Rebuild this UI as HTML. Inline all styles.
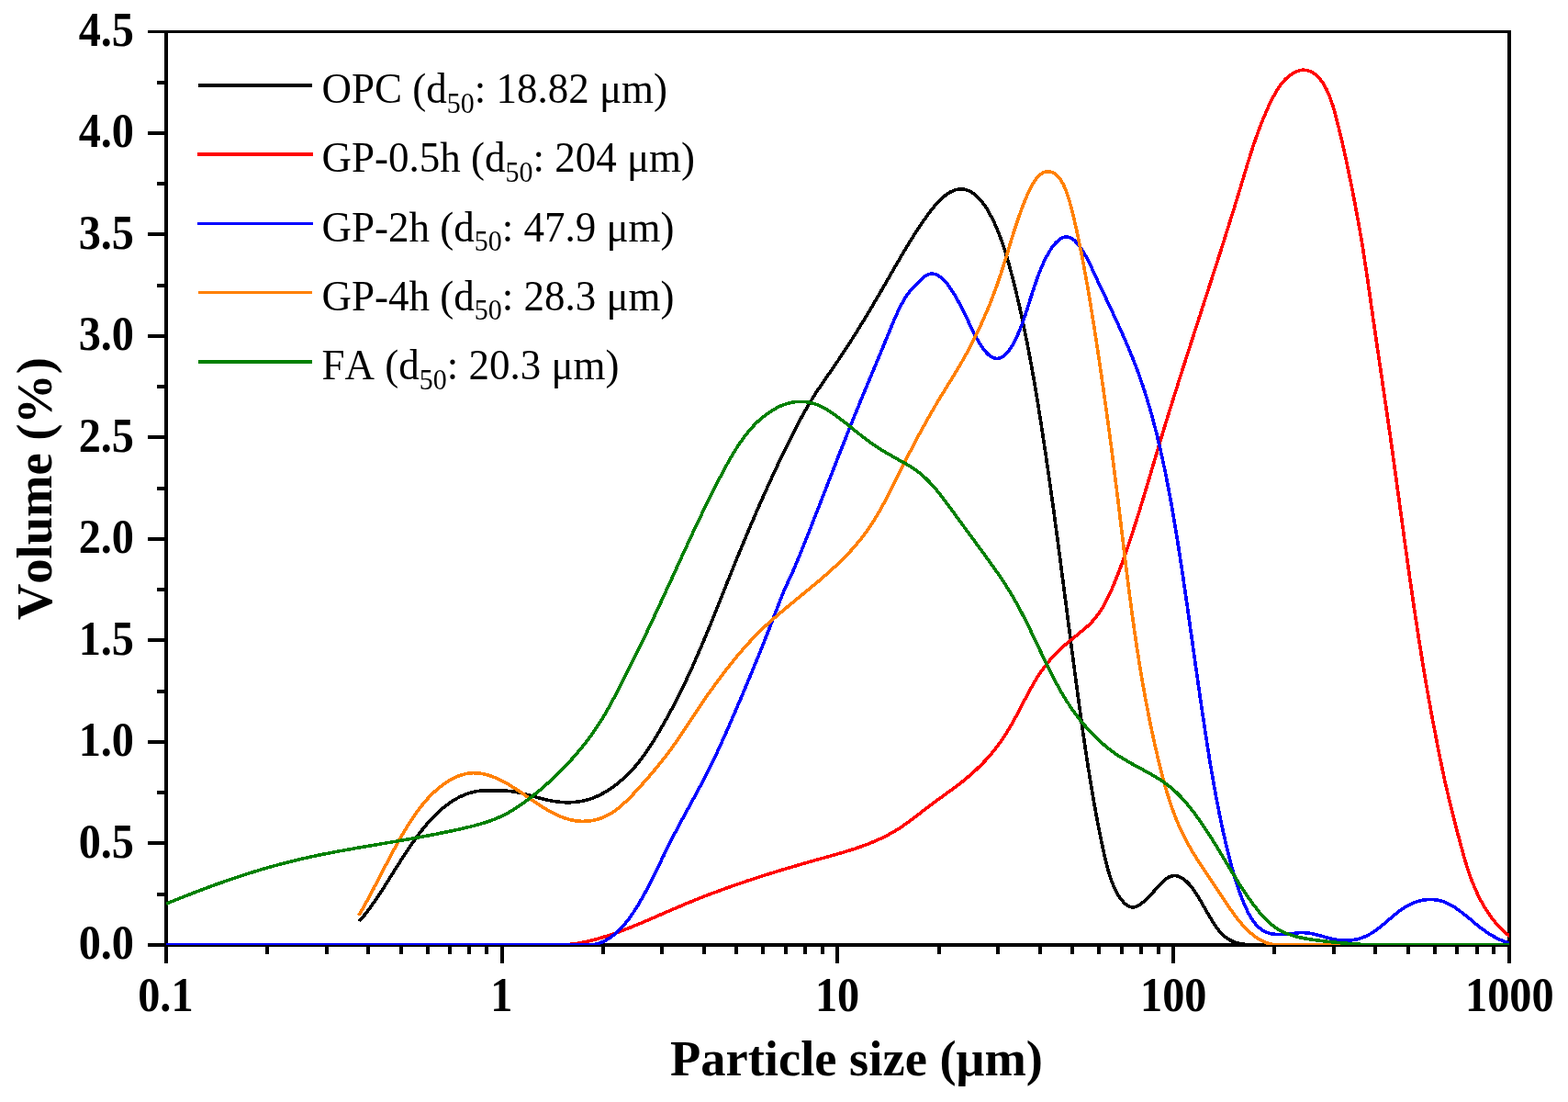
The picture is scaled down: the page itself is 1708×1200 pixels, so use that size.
<!DOCTYPE html>
<html lang="en"><head><meta charset="utf-8"><title>Particle size distribution</title>
<style>html,body{margin:0;padding:0;background:#fff;}body{width:1708px;height:1200px;overflow:hidden;}svg{display:block;}text{font-family:"Liberation Serif",serif;fill:#000;font-kerning:none;}.tk{font-weight:bold;font-size:48.3px;}.ti{font-weight:bold;font-size:55px;}.lg{font-size:45px;}.sub{font-size:30px;}</style></head><body>
<svg width="1708" height="1200" viewBox="0 0 1708 1200">
<rect width="1708" height="1200" fill="#fff"/>
<g fill="#000" shape-rendering="crispEdges">
<rect x="161" y="33" width="1485" height="3"/>
<rect x="179" y="33" width="4" height="1016"/>
<rect x="1642" y="33" width="4" height="1016"/>
<rect x="161" y="1027" width="1485" height="4"/>
<rect x="161" y="916" width="19" height="4"/>
<rect x="161" y="806" width="19" height="4"/>
<rect x="161" y="695" width="19" height="4"/>
<rect x="161" y="585" width="19" height="4"/>
<rect x="161" y="474" width="19" height="4"/>
<rect x="161" y="364" width="19" height="4"/>
<rect x="161" y="253" width="19" height="4"/>
<rect x="161" y="143" width="19" height="4"/>
<rect x="171" y="972" width="9" height="4"/>
<rect x="171" y="861" width="9" height="4"/>
<rect x="171" y="751" width="9" height="4"/>
<rect x="171" y="640" width="9" height="4"/>
<rect x="171" y="530" width="9" height="4"/>
<rect x="171" y="419" width="9" height="4"/>
<rect x="171" y="309" width="9" height="4"/>
<rect x="171" y="198" width="9" height="4"/>
<rect x="171" y="88" width="9" height="4"/>
<rect x="289" y="1030" width="4" height="9"/>
<rect x="354" y="1030" width="4" height="9"/>
<rect x="399" y="1030" width="4" height="9"/>
<rect x="435" y="1030" width="4" height="9"/>
<rect x="464" y="1030" width="4" height="9"/>
<rect x="488" y="1030" width="4" height="9"/>
<rect x="509" y="1030" width="4" height="9"/>
<rect x="528" y="1030" width="4" height="9"/>
<rect x="545" y="1030" width="4" height="19"/>
<rect x="655" y="1030" width="4" height="9"/>
<rect x="719" y="1030" width="4" height="9"/>
<rect x="765" y="1030" width="4" height="9"/>
<rect x="800" y="1030" width="4" height="9"/>
<rect x="829" y="1030" width="4" height="9"/>
<rect x="854" y="1030" width="4" height="9"/>
<rect x="875" y="1030" width="4" height="9"/>
<rect x="894" y="1030" width="4" height="9"/>
<rect x="910" y="1030" width="4" height="19"/>
<rect x="1021" y="1030" width="4" height="9"/>
<rect x="1085" y="1030" width="4" height="9"/>
<rect x="1131" y="1030" width="4" height="9"/>
<rect x="1166" y="1030" width="4" height="9"/>
<rect x="1195" y="1030" width="4" height="9"/>
<rect x="1220" y="1030" width="4" height="9"/>
<rect x="1241" y="1030" width="4" height="9"/>
<rect x="1260" y="1030" width="4" height="9"/>
<rect x="1276" y="1030" width="4" height="19"/>
<rect x="1386" y="1030" width="4" height="9"/>
<rect x="1451" y="1030" width="4" height="9"/>
<rect x="1496" y="1030" width="4" height="9"/>
<rect x="1532" y="1030" width="4" height="9"/>
<rect x="1561" y="1030" width="4" height="9"/>
<rect x="1585" y="1030" width="4" height="9"/>
<rect x="1607" y="1030" width="4" height="9"/>
<rect x="1625" y="1030" width="4" height="9"/>
</g>
<defs><clipPath id="cp"><rect x="181" y="36" width="1463" height="993"/></clipPath></defs>
<g fill="none" stroke-width="3.6" stroke-linejoin="round" stroke-linecap="butt" clip-path="url(#cp)" shape-rendering="crispEdges">
<path stroke="#000000" d="M391.3 1003.3L392.6 1001.8 393.9 1000.3 395.2 998.8 396.4 997.2 397.7 995.7 398.9 994.1 400.1 992.5 401.3 990.9 402.5 989.3 403.7 987.7 404.9 986.0 406.0 984.4 407.2 982.8 408.3 981.1 409.5 979.5 410.6 977.8 411.7 976.1 412.8 974.5 413.9 972.8 415.0 971.1 416.1 969.5 417.2 967.8 418.3 966.1 419.3 964.4 420.4 962.7 421.5 961.0 422.6 959.3 423.6 957.6 424.7 955.9 425.8 954.2 426.8 952.6 427.9 950.9 428.9 949.2 430.0 947.5 431.1 945.8 432.1 944.1 433.2 942.4 434.3 940.7 435.4 939.0 436.4 937.3 437.5 935.6 438.6 934.0 439.7 932.3 440.8 930.6 441.9 928.9 443.0 927.2 444.1 925.6 445.2 923.9 446.3 922.3 447.5 920.6 448.6 919.0 449.7 917.3 450.9 915.7 452.1 914.1 453.2 912.4 454.4 910.8 455.6 909.2 456.8 907.6 458.0 906.0 459.3 904.4 460.5 902.9 461.8 901.3 463.0 899.8 464.3 898.2 465.6 896.7 466.9 895.2 468.3 893.7 469.6 892.2 471.0 890.8 472.4 889.3 473.8 887.9 475.2 886.5 476.7 885.1 478.1 883.8 479.6 882.4 481.1 881.1 482.7 879.8 484.2 878.6 485.8 877.3 487.4 876.1 489.0 875.0 490.7 873.8 492.3 872.7 494.0 871.6 495.7 870.6 497.5 869.6 499.2 868.6 501.0 867.7 502.8 866.9 504.6 866.1 506.5 865.3 508.4 864.6 510.3 863.9 512.2 863.3 514.1 862.8 516.0 862.3 518.0 861.9 520.0 861.6 522.0 861.3 523.9 861.1 525.9 860.9 527.9 860.8 529.9 860.7 531.9 860.7 533.9 860.7 535.9 860.7 537.9 860.7 539.9 860.7 541.9 860.8 544.0 860.8 546.0 860.9 548.0 861.0 550.0 861.1 551.9 861.2 553.9 861.4 555.9 861.6 557.9 861.8 559.9 862.1 561.9 862.5 563.8 862.8 565.8 863.3 567.8 863.7 569.7 864.2 571.6 864.6 573.6 865.2 575.5 865.7 577.4 866.2 579.4 866.7 581.3 867.3 583.2 867.8 585.2 868.4 587.1 868.9 589.0 869.4 591.0 869.9 592.9 870.4 594.8 870.9 596.8 871.3 598.8 871.7 600.7 872.1 602.7 872.4 604.7 872.7 606.7 873.0 608.6 873.2 610.6 873.4 612.6 873.6 614.6 873.7 616.6 873.8 618.6 873.8 620.6 873.8 622.6 873.7 624.6 873.6 626.6 873.4 628.6 873.2 630.6 872.9 632.6 872.6 634.6 872.3 636.5 871.8 638.5 871.3 640.4 870.8 642.3 870.2 644.2 869.6 646.1 868.9 647.9 868.1 649.8 867.3 651.6 866.5 653.4 865.6 655.2 864.7 656.9 863.8 658.7 862.8 660.4 861.7 662.1 860.7 663.8 859.6 665.4 858.5 667.1 857.3 668.7 856.2 670.3 855.0 671.9 853.7 673.4 852.5 675.0 851.2 676.5 849.9 678.0 848.6 679.5 847.3 681.0 845.9 682.5 844.6 683.9 843.2 685.3 841.8 686.7 840.3 688.1 838.9 689.5 837.4 690.8 835.9 692.1 834.4 693.4 832.9 694.7 831.4 696.0 829.8 697.2 828.2 698.4 826.6 699.6 825.0 700.8 823.4 702.0 821.8 703.1 820.1 704.2 818.5 705.4 816.8 706.5 815.2 707.6 813.5 708.7 811.8 709.8 810.1 710.8 808.5 711.9 806.8 712.9 805.1 714.0 803.3 715.0 801.6 716.1 799.9 717.1 798.2 718.1 796.5 719.1 794.8 720.1 793.0 721.1 791.3 722.1 789.6 723.1 787.8 724.1 786.1 725.1 784.3 726.1 782.6 727.0 780.8 728.0 779.1 728.9 777.3 729.9 775.6 730.8 773.8 731.8 772.0 732.7 770.3 733.7 768.5 734.6 766.7 735.5 764.9 736.4 763.1 737.3 761.4 738.2 759.6 739.1 757.8 740.0 756.0 740.9 754.2 741.8 752.4 742.7 750.6 743.6 748.8 744.4 747.0 745.3 745.2 746.2 743.4 747.0 741.6 747.9 739.8 748.7 738.0 749.6 736.2 750.4 734.3 751.3 732.5 752.1 730.7 752.9 728.9 753.8 727.1 754.6 725.2 755.4 723.4 756.2 721.6 757.0 719.8 757.8 717.9 758.6 716.1 759.4 714.3 760.2 712.4 761.0 710.6 761.8 708.7 762.6 706.9 763.4 705.1 764.2 703.2 765.0 701.4 765.8 699.5 766.5 697.7 767.3 695.8 768.1 694.0 768.8 692.1 769.6 690.3 770.4 688.4 771.1 686.6 771.9 684.7 772.7 682.9 773.4 681.0 774.2 679.2 774.9 677.3 775.7 675.5 776.4 673.6 777.2 671.8 777.9 669.9 778.7 668.1 779.4 666.2 780.2 664.3 780.9 662.5 781.7 660.6 782.4 658.8 783.1 656.9 783.9 655.0 784.6 653.2 785.4 651.3 786.1 649.5 786.9 647.6 787.6 645.7 788.3 643.9 789.1 642.0 789.8 640.2 790.6 638.3 791.3 636.4 792.0 634.6 792.8 632.7 793.5 630.9 794.3 629.0 795.0 627.2 795.8 625.3 796.5 623.4 797.3 621.6 798.0 619.7 798.8 617.9 799.5 616.0 800.3 614.2 801.0 612.3 801.8 610.5 802.5 608.6 803.3 606.7 804.1 604.9 804.8 603.0 805.6 601.2 806.3 599.3 807.1 597.5 807.9 595.6 808.6 593.8 809.4 591.9 810.2 590.1 810.9 588.2 811.7 586.4 812.5 584.5 813.3 582.7 814.0 580.9 814.8 579.0 815.6 577.2 816.4 575.3 817.1 573.5 817.9 571.6 818.7 569.8 819.5 568.0 820.3 566.1 821.1 564.3 821.9 562.4 822.7 560.6 823.4 558.8 824.2 556.9 825.0 555.1 825.8 553.3 826.6 551.4 827.4 549.6 828.3 547.8 829.1 545.9 829.9 544.1 830.7 542.3 831.5 540.4 832.3 538.6 833.1 536.8 833.9 534.9 834.8 533.1 835.6 531.3 836.4 529.5 837.2 527.6 838.1 525.8 838.9 524.0 839.7 522.2 840.6 520.4 841.4 518.5 842.2 516.7 843.1 514.9 843.9 513.1 844.8 511.3 845.6 509.5 846.5 507.7 847.3 505.8 848.2 504.0 849.0 502.2 849.9 500.4 850.8 498.6 851.6 496.8 852.5 495.0 853.4 493.2 854.2 491.4 855.1 489.6 856.0 487.8 856.9 486.0 857.8 484.2 858.6 482.4 859.5 480.6 860.4 478.8 861.3 477.0 862.2 475.2 863.1 473.5 864.0 471.7 864.9 469.9 865.8 468.1 866.8 466.3 867.7 464.5 868.6 462.8 869.5 461.0 870.5 459.2 871.4 457.5 872.4 455.7 873.3 453.9 874.3 452.2 875.3 450.4 876.2 448.7 877.2 447.0 878.2 445.2 879.2 443.5 880.2 441.8 881.3 440.0 882.3 438.3 883.3 436.6 884.4 434.9 885.4 433.2 886.5 431.5 887.6 429.8 888.6 428.1 889.7 426.4 890.8 424.8 891.9 423.1 893.1 421.4 894.2 419.8 895.3 418.1 896.4 416.5 897.6 414.8 898.7 413.2 899.8 411.5 901.0 409.9 902.1 408.2 903.3 406.6 904.4 405.0 905.6 403.3 906.7 401.7 907.8 400.0 909.0 398.4 910.1 396.7 911.2 395.1 912.4 393.4 913.5 391.8 914.6 390.1 915.7 388.4 916.8 386.8 917.9 385.1 919.0 383.4 920.1 381.8 921.2 380.1 922.3 378.4 923.4 376.7 924.5 375.0 925.6 373.4 926.7 371.7 927.7 370.0 928.8 368.3 929.9 366.6 931.0 364.9 932.0 363.2 933.1 361.5 934.1 359.8 935.2 358.1 936.2 356.4 937.3 354.7 938.3 353.0 939.4 351.3 940.4 349.6 941.5 347.9 942.5 346.2 943.5 344.4 944.6 342.7 945.6 341.0 946.6 339.3 947.6 337.6 948.7 335.9 949.7 334.1 950.7 332.4 951.7 330.7 952.7 329.0 953.8 327.2 954.8 325.5 955.8 323.8 956.8 322.0 957.8 320.3 958.8 318.6 959.8 316.9 960.8 315.1 961.8 313.4 962.8 311.7 963.8 309.9 964.8 308.2 965.8 306.4 966.8 304.7 967.8 303.0 968.8 301.2 969.8 299.5 970.8 297.8 971.8 296.0 972.8 294.3 973.8 292.6 974.8 290.8 975.8 289.1 976.8 287.4 977.8 285.6 978.8 283.9 979.8 282.2 980.8 280.4 981.8 278.7 982.8 277.0 983.9 275.3 984.9 273.5 985.9 271.8 986.9 270.1 988.0 268.4 989.0 266.7 990.1 265.0 991.1 263.3 992.2 261.6 993.2 259.9 994.3 258.2 995.3 256.5 996.4 254.8 997.5 253.1 998.6 251.4 999.7 249.8 1000.8 248.1 1001.9 246.4 1003.0 244.8 1004.1 243.1 1005.3 241.4 1006.4 239.8 1007.6 238.2 1008.7 236.5 1009.9 234.9 1011.1 233.3 1012.3 231.7 1013.5 230.1 1014.7 228.5 1016.0 227.0 1017.2 225.4 1018.5 223.9 1019.8 222.4 1021.2 220.9 1022.6 219.4 1024.0 218.0 1025.4 216.6 1026.9 215.2 1028.4 213.9 1029.9 212.7 1031.6 211.5 1033.2 210.4 1034.9 209.3 1036.7 208.4 1038.5 207.6 1040.4 206.9 1042.4 206.4 1044.3 206.1 1046.3 205.9 1048.3 206.0 1050.3 206.2 1052.3 206.7 1054.2 207.3 1056.0 208.1 1057.8 209.0 1059.5 210.1 1061.1 211.2 1062.7 212.5 1064.2 213.8 1065.6 215.2 1067.0 216.6 1068.3 218.1 1069.6 219.7 1070.8 221.3 1072.0 222.9 1073.1 224.6 1074.2 226.2 1075.3 227.9 1076.3 229.6 1077.3 231.4 1078.3 233.1 1079.2 234.9 1080.2 236.7 1081.1 238.4 1082.0 240.2 1082.8 242.0 1083.7 243.9 1084.5 245.7 1085.3 247.5 1086.1 249.4 1086.8 251.2 1087.6 253.1 1088.3 254.9 1089.0 256.8 1089.7 258.7 1090.4 260.6 1091.1 262.4 1091.8 264.3 1092.4 266.2 1093.1 268.1 1093.7 270.0 1094.3 271.9 1094.9 273.8 1095.5 275.7 1096.1 277.7 1096.7 279.6 1097.2 281.5 1097.8 283.4 1098.3 285.3 1098.9 287.3 1099.4 289.2 1099.9 291.1 1100.5 293.1 1101.0 295.0 1101.5 296.9 1102.0 298.9 1102.5 300.8 1103.0 302.7 1103.5 304.7 1104.0 306.6 1104.5 308.6 1105.0 310.5 1105.5 312.4 1105.9 314.4 1106.4 316.3 1106.9 318.3 1107.4 320.2 1107.8 322.2 1108.3 324.1 1108.7 326.1 1109.2 328.0 1109.6 330.0 1110.1 331.9 1110.5 333.9 1111.0 335.8 1111.4 337.8 1111.8 339.7 1112.3 341.7 1112.7 343.6 1113.1 345.6 1113.6 347.6 1114.0 349.5 1114.4 351.5 1114.8 353.4 1115.2 355.4 1115.6 357.4 1116.0 359.3 1116.4 361.3 1116.8 363.2 1117.2 365.2 1117.6 367.2 1118.0 369.1 1118.4 371.1 1118.8 373.1 1119.2 375.0 1119.5 377.0 1119.9 378.9 1120.3 380.9 1120.7 382.9 1121.0 384.8 1121.4 386.8 1121.8 388.8 1122.1 390.8 1122.5 392.7 1122.9 394.7 1123.2 396.7 1123.6 398.6 1123.9 400.6 1124.3 402.6 1124.6 404.5 1125.0 406.5 1125.3 408.5 1125.7 410.5 1126.0 412.4 1126.4 414.4 1126.7 416.4 1127.0 418.4 1127.4 420.3 1127.7 422.3 1128.0 424.3 1128.4 426.2 1128.7 428.2 1129.0 430.2 1129.4 432.2 1129.7 434.1 1130.0 436.1 1130.3 438.1 1130.6 440.1 1131.0 442.1 1131.3 444.0 1131.6 446.0 1131.9 448.0 1132.2 450.0 1132.5 451.9 1132.9 453.9 1133.2 455.9 1133.5 457.9 1133.8 459.8 1134.1 461.8 1134.4 463.8 1134.7 465.8 1135.0 467.8 1135.3 469.7 1135.6 471.7 1135.9 473.7 1136.2 475.7 1136.5 477.7 1136.8 479.6 1137.1 481.6 1137.4 483.6 1137.7 485.6 1138.0 487.6 1138.3 489.5 1138.6 491.5 1138.9 493.5 1139.2 495.5 1139.5 497.5 1139.8 499.4 1140.1 501.4 1140.3 503.4 1140.6 505.4 1140.9 507.4 1141.2 509.3 1141.5 511.3 1141.8 513.3 1142.1 515.3 1142.3 517.3 1142.6 519.2 1142.9 521.2 1143.2 523.2 1143.5 525.2 1143.7 527.2 1144.0 529.2 1144.3 531.1 1144.6 533.1 1144.9 535.1 1145.1 537.1 1145.4 539.1 1145.7 541.1 1146.0 543.0 1146.2 545.0 1146.5 547.0 1146.8 549.0 1147.1 551.0 1147.3 553.0 1147.6 554.9 1147.9 556.9 1148.1 558.9 1148.4 560.9 1148.7 562.9 1148.9 564.9 1149.2 566.8 1149.5 568.8 1149.7 570.8 1150.0 572.8 1150.3 574.8 1150.5 576.8 1150.8 578.7 1151.1 580.7 1151.3 582.7 1151.6 584.7 1151.9 586.7 1152.1 588.7 1152.4 590.7 1152.6 592.6 1152.9 594.6 1153.2 596.6 1153.4 598.6 1153.7 600.6 1154.0 602.6 1154.2 604.5 1154.5 606.5 1154.7 608.5 1155.0 610.5 1155.3 612.5 1155.5 614.5 1155.8 616.5 1156.0 618.4 1156.3 620.4 1156.5 622.4 1156.8 624.4 1157.1 626.4 1157.3 628.4 1157.6 630.4 1157.8 632.3 1158.1 634.3 1158.3 636.3 1158.6 638.3 1158.9 640.3 1159.1 642.3 1159.4 644.3 1159.6 646.2 1159.9 648.2 1160.1 650.2 1160.4 652.2 1160.7 654.2 1160.9 656.2 1161.2 658.2 1161.4 660.1 1161.7 662.1 1161.9 664.1 1162.2 666.1 1162.4 668.1 1162.7 670.1 1163.0 672.0 1163.2 674.0 1163.5 676.0 1163.7 678.0 1164.0 680.0 1164.2 682.0 1164.5 684.0 1164.8 685.9 1165.0 687.9 1165.3 689.9 1165.5 691.9 1165.8 693.9 1166.0 695.9 1166.3 697.9 1166.6 699.8 1166.8 701.8 1167.1 703.8 1167.3 705.8 1167.6 707.8 1167.8 709.8 1168.1 711.8 1168.4 713.7 1168.6 715.7 1168.9 717.7 1169.1 719.7 1169.4 721.7 1169.7 723.7 1169.9 725.6 1170.2 727.6 1170.5 729.6 1170.7 731.6 1171.0 733.6 1171.2 735.6 1171.5 737.6 1171.8 739.5 1172.0 741.5 1172.3 743.5 1172.6 745.5 1172.8 747.5 1173.1 749.5 1173.4 751.4 1173.6 753.4 1173.9 755.4 1174.2 757.4 1174.4 759.4 1174.7 761.4 1175.0 763.4 1175.2 765.3 1175.5 767.3 1175.8 769.3 1176.1 771.3 1176.3 773.3 1176.6 775.3 1176.9 777.2 1177.1 779.2 1177.4 781.2 1177.7 783.2 1178.0 785.2 1178.2 787.1 1178.5 789.1 1178.8 791.1 1179.1 793.1 1179.4 795.1 1179.6 797.1 1179.9 799.0 1180.2 801.0 1180.5 803.0 1180.8 805.0 1181.1 807.0 1181.4 808.9 1181.7 810.9 1181.9 812.9 1182.2 814.9 1182.5 816.9 1182.8 818.9 1183.1 820.8 1183.4 822.8 1183.7 824.8 1184.0 826.8 1184.3 828.7 1184.6 830.7 1184.9 832.7 1185.2 834.7 1185.5 836.7 1185.8 838.6 1186.2 840.6 1186.5 842.6 1186.8 844.6 1187.1 846.5 1187.4 848.5 1187.7 850.5 1188.1 852.5 1188.4 854.5 1188.7 856.4 1189.0 858.4 1189.4 860.4 1189.7 862.4 1190.0 864.3 1190.4 866.3 1190.7 868.3 1191.1 870.2 1191.4 872.2 1191.7 874.2 1192.1 876.2 1192.4 878.1 1192.8 880.1 1193.2 882.1 1193.5 884.0 1193.9 886.0 1194.2 888.0 1194.6 889.9 1195.0 891.9 1195.3 893.9 1195.7 895.8 1196.1 897.8 1196.5 899.8 1196.9 901.7 1197.2 903.7 1197.6 905.7 1198.0 907.6 1198.4 909.6 1198.8 911.6 1199.2 913.5 1199.6 915.5 1200.0 917.4 1200.4 919.4 1200.9 921.4 1201.3 923.3 1201.7 925.3 1202.1 927.2 1202.6 929.2 1203.0 931.1 1203.4 933.1 1203.9 935.0 1204.3 937.0 1204.8 938.9 1205.3 940.9 1205.8 942.8 1206.3 944.8 1206.8 946.7 1207.4 948.6 1208.0 950.5 1208.5 952.4 1209.1 954.4 1209.8 956.3 1210.4 958.1 1211.1 960.0 1211.8 961.9 1212.6 963.7 1213.4 965.6 1214.2 967.4 1215.1 969.2 1216.0 971.0 1217.0 972.7 1218.0 974.5 1219.0 976.2 1220.2 977.8 1221.4 979.4 1222.6 981.0 1223.9 982.5 1225.3 983.9 1226.9 985.2 1228.5 986.3 1230.3 987.2 1232.2 987.8 1234.2 987.9 1236.2 987.6 1238.1 986.9 1239.9 986.1 1241.6 985.0 1243.3 983.9 1244.9 982.7 1246.4 981.4 1247.9 980.1 1249.4 978.7 1250.8 977.3 1252.2 975.9 1253.6 974.4 1254.9 972.9 1256.2 971.4 1257.6 969.9 1258.9 968.4 1260.2 966.9 1261.6 965.5 1262.9 964.0 1264.3 962.5 1265.7 961.1 1267.1 959.7 1268.6 958.4 1270.2 957.1 1271.8 956.0 1273.5 955.0 1275.4 954.2 1277.3 953.7 1279.3 953.5 1281.3 953.7 1283.3 954.2 1285.1 954.9 1286.9 955.8 1288.6 956.8 1290.2 958.0 1291.8 959.3 1293.2 960.7 1294.6 962.1 1296.0 963.6 1297.3 965.1 1298.5 966.7 1299.7 968.3 1300.9 969.9 1302.0 971.6 1303.1 973.2 1304.2 974.9 1305.2 976.6 1306.3 978.3 1307.3 980.1 1308.3 981.8 1309.3 983.5 1310.3 985.3 1311.3 987.0 1312.3 988.8 1313.2 990.5 1314.2 992.2 1315.2 994.0 1316.2 995.7 1317.2 997.4 1318.2 999.2 1319.3 1000.9 1320.3 1002.6 1321.4 1004.3 1322.5 1006.0 1323.6 1007.6 1324.7 1009.3 1325.9 1010.9 1327.1 1012.5 1328.4 1014.0 1329.7 1015.6 1331.1 1017.0 1332.5 1018.4 1334.0 1019.7 1335.6 1021.0 1337.2 1022.1 1338.9 1023.2 1340.7 1024.1 1342.5 1025.0 1344.3 1025.7 1346.2 1026.4 1348.1 1026.9 1350.1 1027.4 1352.1 1027.8 1354.0 1028.1 1356.0 1028.4 1358.0 1028.6 1360.0 1028.7 1362.0 1028.8 1364.0 1028.9 1366.0 1029.0 1644.0 1029.0"/>
<path stroke="#ff0000" d="M181.0 1029.0L604.9 1029.0 607.0 1029.0 609.0 1029.0 611.0 1029.0 613.0 1028.9 615.0 1028.8 617.0 1028.7 619.0 1028.5 620.9 1028.3 622.9 1028.1 624.9 1027.8 626.9 1027.6 628.9 1027.3 630.9 1026.9 632.8 1026.6 634.8 1026.2 636.8 1025.8 638.7 1025.4 640.7 1025.0 642.6 1024.5 644.6 1024.0 646.5 1023.5 648.5 1023.0 650.4 1022.5 652.3 1021.9 654.2 1021.4 656.2 1020.8 658.1 1020.2 660.0 1019.6 661.9 1019.0 663.8 1018.4 665.7 1017.7 667.6 1017.1 669.5 1016.4 671.4 1015.8 673.2 1015.1 675.1 1014.4 677.0 1013.7 678.9 1013.0 680.7 1012.3 682.6 1011.5 684.5 1010.8 686.3 1010.1 688.2 1009.3 690.1 1008.6 691.9 1007.8 693.8 1007.0 695.6 1006.3 697.5 1005.5 699.3 1004.7 701.2 1004.0 703.0 1003.2 704.8 1002.4 706.7 1001.6 708.5 1000.8 710.4 1000.0 712.2 999.2 714.0 998.4 715.9 997.6 717.7 996.8 719.5 996.0 721.4 995.2 723.2 994.4 725.1 993.6 726.9 992.8 728.7 992.0 730.6 991.2 732.4 990.4 734.2 989.6 736.1 988.8 737.9 988.0 739.8 987.3 741.6 986.5 743.5 985.7 745.3 984.9 747.1 984.1 749.0 983.4 750.8 982.6 752.7 981.9 754.6 981.1 756.4 980.3 758.3 979.6 760.1 978.9 762.0 978.1 763.9 977.4 765.7 976.7 767.6 975.9 769.5 975.2 771.3 974.5 773.2 973.8 775.1 973.1 776.9 972.4 778.8 971.7 780.7 971.0 782.6 970.3 784.5 969.6 786.3 968.9 788.2 968.2 790.1 967.5 792.0 966.8 793.9 966.2 795.8 965.5 797.7 964.8 799.5 964.2 801.4 963.5 803.3 962.9 805.2 962.2 807.1 961.6 809.0 960.9 810.9 960.3 812.8 959.6 814.7 959.0 816.6 958.4 818.5 957.8 820.4 957.1 822.3 956.5 824.2 955.9 826.1 955.3 828.0 954.7 830.0 954.1 831.9 953.4 833.8 952.8 835.7 952.2 837.6 951.6 839.5 951.0 841.4 950.5 843.3 949.9 845.2 949.3 847.2 948.7 849.1 948.1 851.0 947.5 852.9 946.9 854.8 946.4 856.7 945.8 858.7 945.2 860.6 944.7 862.5 944.1 864.4 943.5 866.4 943.0 868.3 942.4 870.2 941.8 872.1 941.3 874.0 940.7 876.0 940.2 877.9 939.6 879.8 939.1 881.8 938.5 883.7 938.0 885.6 937.4 887.5 936.9 889.5 936.3 891.4 935.8 893.3 935.3 895.2 934.7 897.2 934.2 899.1 933.6 901.0 933.1 903.0 932.6 904.9 932.0 906.8 931.5 908.7 930.9 910.7 930.4 912.6 929.8 914.5 929.3 916.4 928.7 918.4 928.2 920.3 927.6 922.2 927.0 924.1 926.4 926.0 925.8 927.9 925.2 929.9 924.6 931.8 924.0 933.7 923.3 935.5 922.7 937.4 922.0 939.3 921.4 941.2 920.7 943.1 920.0 945.0 919.3 946.8 918.5 948.7 917.8 950.5 917.0 952.4 916.3 954.2 915.5 956.1 914.6 957.9 913.8 959.7 913.0 961.5 912.1 963.3 911.2 965.1 910.3 966.9 909.4 968.6 908.4 970.4 907.5 972.1 906.5 973.9 905.5 975.6 904.5 977.3 903.4 979.0 902.4 980.7 901.3 982.3 900.2 984.0 899.0 985.6 897.9 987.3 896.7 988.9 895.6 990.5 894.4 992.1 893.2 993.7 892.0 995.3 890.8 996.9 889.6 998.5 888.3 1000.1 887.1 1001.7 885.9 1003.3 884.7 1004.8 883.4 1006.4 882.2 1008.0 881.0 1009.6 879.8 1011.2 878.5 1012.8 877.3 1014.4 876.1 1016.0 874.9 1017.6 873.8 1019.2 872.6 1020.8 871.4 1022.5 870.2 1024.1 869.0 1025.7 867.9 1027.3 866.7 1029.0 865.5 1030.6 864.4 1032.2 863.2 1033.8 862.0 1035.5 860.9 1037.1 859.7 1038.7 858.5 1040.3 857.3 1041.9 856.1 1043.5 854.9 1045.1 853.7 1046.7 852.4 1048.3 851.2 1049.8 849.9 1051.4 848.7 1052.9 847.4 1054.4 846.1 1056.0 844.8 1057.5 843.5 1059.0 842.2 1060.5 840.8 1061.9 839.5 1063.4 838.1 1064.8 836.7 1066.3 835.3 1067.7 833.9 1069.1 832.5 1070.5 831.1 1071.9 829.6 1073.3 828.2 1074.6 826.7 1076.0 825.2 1077.3 823.7 1078.6 822.2 1079.9 820.7 1081.2 819.1 1082.5 817.6 1083.7 816.0 1084.9 814.4 1086.2 812.8 1087.4 811.2 1088.6 809.6 1089.7 808.0 1090.9 806.4 1092.0 804.7 1093.2 803.1 1094.3 801.4 1095.3 799.7 1096.4 798.0 1097.5 796.3 1098.5 794.6 1099.6 792.9 1100.6 791.2 1101.6 789.4 1102.6 787.7 1103.5 785.9 1104.5 784.2 1105.5 782.4 1106.4 780.7 1107.4 778.9 1108.3 777.1 1109.2 775.4 1110.2 773.6 1111.1 771.8 1112.0 770.0 1113.0 768.3 1113.9 766.5 1114.8 764.7 1115.7 762.9 1116.7 761.2 1117.6 759.4 1118.5 757.6 1119.5 755.8 1120.4 754.1 1121.4 752.3 1122.3 750.6 1123.3 748.8 1124.3 747.1 1125.3 745.3 1126.3 743.6 1127.3 741.9 1128.3 740.1 1129.4 738.4 1130.4 736.7 1131.5 735.1 1132.6 733.4 1133.8 731.7 1134.9 730.1 1136.1 728.5 1137.3 726.8 1138.5 725.2 1139.7 723.7 1141.0 722.1 1142.2 720.6 1143.5 719.0 1144.8 717.5 1146.2 716.0 1147.5 714.6 1148.9 713.1 1150.3 711.7 1151.7 710.2 1153.1 708.8 1154.6 707.4 1156.0 706.1 1157.5 704.7 1159.0 703.3 1160.5 702.0 1162.0 700.7 1163.5 699.4 1165.0 698.1 1166.6 696.8 1168.1 695.6 1169.7 694.3 1171.2 693.0 1172.8 691.8 1174.4 690.5 1175.9 689.3 1177.5 688.0 1179.0 686.8 1180.6 685.5 1182.1 684.2 1183.6 682.8 1185.1 681.5 1186.5 680.1 1187.9 678.7 1189.3 677.3 1190.7 675.8 1192.0 674.3 1193.3 672.7 1194.5 671.1 1195.7 669.5 1196.9 667.9 1198.0 666.3 1199.1 664.6 1200.2 662.9 1201.2 661.2 1202.2 659.5 1203.2 657.7 1204.2 656.0 1205.1 654.2 1206.0 652.4 1206.9 650.6 1207.8 648.8 1208.7 647.0 1209.5 645.2 1210.3 643.4 1211.1 641.5 1211.9 639.7 1212.7 637.8 1213.5 636.0 1214.2 634.1 1215.0 632.3 1215.7 630.4 1216.4 628.5 1217.1 626.7 1217.9 624.8 1218.6 622.9 1219.3 621.1 1220.0 619.2 1220.7 617.3 1221.4 615.4 1222.1 613.5 1222.7 611.7 1223.4 609.8 1224.1 607.9 1224.8 606.0 1225.4 604.1 1226.1 602.2 1226.8 600.3 1227.4 598.4 1228.1 596.5 1228.7 594.7 1229.4 592.8 1230.0 590.9 1230.6 589.0 1231.3 587.1 1231.9 585.2 1232.5 583.3 1233.2 581.4 1233.8 579.5 1234.4 577.5 1235.0 575.6 1235.6 573.7 1236.3 571.8 1236.9 569.9 1237.5 568.0 1238.1 566.1 1238.7 564.2 1239.3 562.3 1239.9 560.4 1240.5 558.5 1241.1 556.5 1241.7 554.6 1242.2 552.7 1242.8 550.8 1243.4 548.9 1244.0 547.0 1244.6 545.1 1245.2 543.1 1245.8 541.2 1246.3 539.3 1246.9 537.4 1247.5 535.5 1248.1 533.5 1248.6 531.6 1249.2 529.7 1249.8 527.8 1250.4 525.9 1250.9 523.9 1251.5 522.0 1252.1 520.1 1252.6 518.2 1253.2 516.3 1253.8 514.3 1254.3 512.4 1254.9 510.5 1255.5 508.6 1256.0 506.7 1256.6 504.7 1257.2 502.8 1257.8 500.9 1258.3 499.0 1258.9 497.1 1259.5 495.1 1260.0 493.2 1260.6 491.3 1261.2 489.4 1261.7 487.5 1262.3 485.5 1262.9 483.6 1263.5 481.7 1264.0 479.8 1264.6 477.9 1265.2 476.0 1265.8 474.0 1266.4 472.1 1266.9 470.2 1267.5 468.3 1268.1 466.4 1268.7 464.5 1269.3 462.5 1269.9 460.6 1270.5 458.7 1271.0 456.8 1271.6 454.9 1272.2 453.0 1272.8 451.1 1273.4 449.1 1274.0 447.2 1274.6 445.3 1275.2 443.4 1275.8 441.5 1276.4 439.6 1277.0 437.7 1277.6 435.7 1278.2 433.8 1278.8 431.9 1279.4 430.0 1280.0 428.1 1280.6 426.2 1281.2 424.3 1281.8 422.4 1282.4 420.5 1283.0 418.6 1283.6 416.6 1284.2 414.7 1284.8 412.8 1285.4 410.9 1286.0 409.0 1286.6 407.1 1287.2 405.2 1287.8 403.3 1288.4 401.4 1289.0 399.5 1289.7 397.6 1290.3 395.6 1290.9 393.7 1291.5 391.8 1292.1 389.9 1292.7 388.0 1293.3 386.1 1293.9 384.2 1294.6 382.3 1295.2 380.4 1295.8 378.5 1296.4 376.6 1297.0 374.7 1297.6 372.8 1298.2 370.9 1298.8 369.0 1299.5 367.0 1300.1 365.1 1300.7 363.2 1301.3 361.3 1301.9 359.4 1302.5 357.5 1303.2 355.6 1303.8 353.7 1304.4 351.8 1305.0 349.9 1305.6 348.0 1306.2 346.1 1306.9 344.2 1307.5 342.3 1308.1 340.4 1308.7 338.5 1309.3 336.6 1309.9 334.6 1310.6 332.7 1311.2 330.8 1311.8 328.9 1312.4 327.0 1313.0 325.1 1313.6 323.2 1314.2 321.3 1314.9 319.4 1315.5 317.5 1316.1 315.6 1316.7 313.7 1317.3 311.8 1317.9 309.9 1318.6 308.0 1319.2 306.1 1319.8 304.1 1320.4 302.2 1321.0 300.3 1321.6 298.4 1322.2 296.5 1322.8 294.6 1323.5 292.7 1324.1 290.8 1324.7 288.9 1325.3 287.0 1325.9 285.1 1326.5 283.2 1327.1 281.3 1327.7 279.4 1328.3 277.4 1329.0 275.5 1329.6 273.6 1330.2 271.7 1330.8 269.8 1331.4 267.9 1332.0 266.0 1332.6 264.1 1333.2 262.2 1333.8 260.3 1334.4 258.4 1335.0 256.4 1335.6 254.5 1336.2 252.6 1336.8 250.7 1337.4 248.8 1338.0 246.9 1338.6 245.0 1339.2 243.1 1339.8 241.2 1340.4 239.2 1341.0 237.3 1341.6 235.4 1342.2 233.5 1342.8 231.6 1343.4 229.7 1344.0 227.8 1344.6 225.9 1345.1 223.9 1345.7 222.0 1346.3 220.1 1346.9 218.2 1347.5 216.3 1348.1 214.4 1348.7 212.4 1349.3 210.5 1349.8 208.6 1350.4 206.7 1351.0 204.8 1351.6 202.9 1352.2 200.9 1352.7 199.0 1353.3 197.1 1353.9 195.2 1354.5 193.3 1355.0 191.4 1355.6 189.4 1356.2 187.5 1356.8 185.6 1357.4 183.7 1357.9 181.8 1358.5 179.8 1359.1 177.9 1359.7 176.0 1360.3 174.1 1360.9 172.2 1361.5 170.3 1362.1 168.4 1362.7 166.5 1363.3 164.6 1363.9 162.7 1364.5 160.7 1365.2 158.8 1365.8 156.9 1366.4 155.0 1367.1 153.2 1367.8 151.3 1368.4 149.4 1369.1 147.5 1369.8 145.6 1370.4 143.7 1371.1 141.8 1371.8 140.0 1372.5 138.1 1373.3 136.2 1374.0 134.3 1374.7 132.5 1375.5 130.6 1376.2 128.8 1377.0 126.9 1377.8 125.1 1378.6 123.2 1379.4 121.4 1380.2 119.6 1381.0 117.7 1381.8 115.9 1382.6 114.1 1383.5 112.3 1384.4 110.5 1385.3 108.7 1386.2 106.9 1387.1 105.1 1388.1 103.4 1389.0 101.6 1390.0 99.9 1391.1 98.2 1392.2 96.5 1393.3 94.8 1394.4 93.2 1395.6 91.6 1396.9 90.0 1398.2 88.5 1399.5 87.0 1400.9 85.6 1402.4 84.2 1403.9 82.9 1405.5 81.7 1407.2 80.6 1408.9 79.5 1410.6 78.6 1412.5 77.8 1414.4 77.1 1416.3 76.6 1418.3 76.3 1420.3 76.2 1422.3 76.4 1424.2 76.7 1426.2 77.3 1428.0 78.1 1429.8 79.0 1431.5 80.1 1433.1 81.3 1434.6 82.6 1436.0 84.0 1437.4 85.5 1438.6 87.0 1439.8 88.6 1440.9 90.3 1442.0 92.0 1443.0 93.7 1444.0 95.5 1444.9 97.3 1445.7 99.1 1446.6 100.9 1447.4 102.8 1448.1 104.6 1448.8 106.5 1449.5 108.3 1450.2 110.2 1450.8 112.1 1451.5 114.0 1452.1 115.9 1452.7 117.9 1453.2 119.8 1453.8 121.7 1454.3 123.6 1454.8 125.6 1455.3 127.5 1455.8 129.5 1456.3 131.4 1456.8 133.3 1457.3 135.3 1457.8 137.2 1458.3 139.2 1458.8 141.1 1459.2 143.1 1459.7 145.0 1460.2 147.0 1460.6 148.9 1461.1 150.9 1461.5 152.8 1462.0 154.8 1462.4 156.7 1462.9 158.7 1463.3 160.6 1463.8 162.6 1464.2 164.5 1464.6 166.5 1465.1 168.4 1465.5 170.4 1465.9 172.3 1466.3 174.3 1466.8 176.3 1467.2 178.2 1467.6 180.2 1468.0 182.1 1468.4 184.1 1468.8 186.1 1469.2 188.0 1469.6 190.0 1470.0 192.0 1470.4 193.9 1470.8 195.9 1471.2 197.8 1471.6 199.8 1472.0 201.8 1472.4 203.7 1472.8 205.7 1473.2 207.7 1473.6 209.6 1474.0 211.6 1474.3 213.6 1474.7 215.5 1475.1 217.5 1475.5 219.5 1475.9 221.4 1476.2 223.4 1476.6 225.4 1477.0 227.3 1477.3 229.3 1477.7 231.3 1478.1 233.2 1478.4 235.2 1478.8 237.2 1479.2 239.1 1479.5 241.1 1479.9 243.1 1480.2 245.1 1480.6 247.0 1480.9 249.0 1481.3 251.0 1481.6 253.0 1481.9 254.9 1482.3 256.9 1482.6 258.9 1482.9 260.9 1483.3 262.8 1483.6 264.8 1483.9 266.8 1484.2 268.8 1484.6 270.7 1484.9 272.7 1485.2 274.7 1485.5 276.7 1485.8 278.7 1486.1 280.6 1486.4 282.6 1486.7 284.6 1487.0 286.6 1487.3 288.5 1487.6 290.5 1487.9 292.5 1488.2 294.5 1488.5 296.5 1488.8 298.5 1489.1 300.4 1489.4 302.4 1489.7 304.4 1490.0 306.4 1490.2 308.4 1490.5 310.3 1490.8 312.3 1491.1 314.3 1491.4 316.3 1491.7 318.3 1491.9 320.3 1492.2 322.2 1492.5 324.2 1492.8 326.2 1493.1 328.2 1493.4 330.2 1493.6 332.2 1493.9 334.1 1494.2 336.1 1494.5 338.1 1494.8 340.1 1495.0 342.1 1495.3 344.1 1495.6 346.0 1495.9 348.0 1496.2 350.0 1496.5 352.0 1496.8 354.0 1497.0 356.0 1497.3 357.9 1497.6 359.9 1497.9 361.9 1498.2 363.9 1498.5 365.9 1498.8 367.8 1499.1 369.8 1499.3 371.8 1499.6 373.8 1499.9 375.8 1500.2 377.8 1500.5 379.7 1500.8 381.7 1501.1 383.7 1501.4 385.7 1501.7 387.7 1502.0 389.7 1502.2 391.6 1502.5 393.6 1502.8 395.6 1503.1 397.6 1503.4 399.6 1503.7 401.5 1504.0 403.5 1504.3 405.5 1504.6 407.5 1504.9 409.5 1505.2 411.4 1505.5 413.4 1505.7 415.4 1506.0 417.4 1506.3 419.4 1506.6 421.4 1506.9 423.3 1507.2 425.3 1507.5 427.3 1507.8 429.3 1508.1 431.3 1508.4 433.3 1508.6 435.2 1508.9 437.2 1509.2 439.2 1509.5 441.2 1509.8 443.2 1510.1 445.1 1510.4 447.1 1510.7 449.1 1510.9 451.1 1511.2 453.1 1511.5 455.1 1511.8 457.0 1512.1 459.0 1512.4 461.0 1512.7 463.0 1512.9 465.0 1513.2 467.0 1513.5 468.9 1513.8 470.9 1514.1 472.9 1514.4 474.9 1514.6 476.9 1514.9 478.8 1515.2 480.8 1515.5 482.8 1515.8 484.8 1516.0 486.8 1516.3 488.8 1516.6 490.8 1516.9 492.7 1517.1 494.7 1517.4 496.7 1517.7 498.7 1518.0 500.7 1518.2 502.7 1518.5 504.6 1518.8 506.6 1519.1 508.6 1519.3 510.6 1519.6 512.6 1519.9 514.6 1520.2 516.5 1520.4 518.5 1520.7 520.5 1521.0 522.5 1521.2 524.5 1521.5 526.5 1521.8 528.5 1522.1 530.4 1522.3 532.4 1522.6 534.4 1522.9 536.4 1523.1 538.4 1523.4 540.4 1523.7 542.3 1523.9 544.3 1524.2 546.3 1524.5 548.3 1524.8 550.3 1525.0 552.3 1525.3 554.3 1525.6 556.2 1525.8 558.2 1526.1 560.2 1526.4 562.2 1526.7 564.2 1526.9 566.2 1527.2 568.1 1527.5 570.1 1527.7 572.1 1528.0 574.1 1528.3 576.1 1528.6 578.1 1528.8 580.1 1529.1 582.0 1529.4 584.0 1529.6 586.0 1529.9 588.0 1530.2 590.0 1530.5 592.0 1530.7 593.9 1531.0 595.9 1531.3 597.9 1531.6 599.9 1531.8 601.9 1532.1 603.9 1532.4 605.8 1532.7 607.8 1532.9 609.8 1533.2 611.8 1533.5 613.8 1533.8 615.8 1534.0 617.7 1534.3 619.7 1534.6 621.7 1534.9 623.7 1535.2 625.7 1535.4 627.7 1535.7 629.6 1536.0 631.6 1536.3 633.6 1536.6 635.6 1536.9 637.6 1537.1 639.6 1537.4 641.5 1537.7 643.5 1538.0 645.5 1538.3 647.5 1538.6 649.5 1538.9 651.5 1539.1 653.4 1539.4 655.4 1539.7 657.4 1540.0 659.4 1540.3 661.4 1540.6 663.3 1540.9 665.3 1541.2 667.3 1541.5 669.3 1541.8 671.3 1542.1 673.3 1542.4 675.2 1542.7 677.2 1543.0 679.2 1543.3 681.2 1543.6 683.2 1543.9 685.1 1544.2 687.1 1544.5 689.1 1544.8 691.1 1545.1 693.1 1545.4 695.0 1545.7 697.0 1546.0 699.0 1546.3 701.0 1546.7 702.9 1547.0 704.9 1547.3 706.9 1547.6 708.9 1547.9 710.9 1548.2 712.8 1548.6 714.8 1548.9 716.8 1549.2 718.8 1549.5 720.7 1549.8 722.7 1550.2 724.7 1550.5 726.7 1550.8 728.7 1551.1 730.6 1551.5 732.6 1551.8 734.6 1552.1 736.6 1552.5 738.5 1552.8 740.5 1553.1 742.5 1553.5 744.5 1553.8 746.4 1554.2 748.4 1554.5 750.4 1554.8 752.3 1555.2 754.3 1555.5 756.3 1555.9 758.3 1556.2 760.2 1556.6 762.2 1556.9 764.2 1557.3 766.2 1557.6 768.1 1558.0 770.1 1558.4 772.1 1558.7 774.0 1559.1 776.0 1559.4 778.0 1559.8 779.9 1560.2 781.9 1560.5 783.9 1560.9 785.9 1561.3 787.8 1561.7 789.8 1562.0 791.8 1562.4 793.7 1562.8 795.7 1563.2 797.7 1563.5 799.6 1563.9 801.6 1564.3 803.6 1564.7 805.5 1565.1 807.5 1565.5 809.5 1565.8 811.4 1566.2 813.4 1566.6 815.4 1567.0 817.3 1567.4 819.3 1567.8 821.2 1568.2 823.2 1568.6 825.2 1569.0 827.1 1569.4 829.1 1569.8 831.1 1570.2 833.0 1570.6 835.0 1571.0 837.0 1571.4 838.9 1571.8 840.9 1572.2 842.8 1572.7 844.8 1573.1 846.7 1573.5 848.7 1573.9 850.7 1574.4 852.6 1574.8 854.6 1575.3 856.5 1575.7 858.5 1576.2 860.4 1576.6 862.4 1577.1 864.3 1577.5 866.3 1578.0 868.2 1578.5 870.2 1578.9 872.1 1579.4 874.1 1579.9 876.0 1580.3 878.0 1580.8 879.9 1581.3 881.8 1581.8 883.8 1582.3 885.7 1582.8 887.7 1583.3 889.6 1583.7 891.6 1584.2 893.5 1584.7 895.4 1585.2 897.4 1585.7 899.3 1586.2 901.3 1586.7 903.2 1587.2 905.1 1587.7 907.1 1588.2 909.0 1588.8 911.0 1589.3 912.9 1589.8 914.8 1590.3 916.8 1590.8 918.7 1591.3 920.6 1591.8 922.6 1592.4 924.5 1592.9 926.4 1593.4 928.4 1594.0 930.3 1594.5 932.2 1595.1 934.1 1595.6 936.1 1596.2 938.0 1596.8 939.9 1597.4 941.8 1598.0 943.7 1598.6 945.6 1599.2 947.5 1599.8 949.4 1600.5 951.3 1601.2 953.2 1601.8 955.1 1602.5 957.0 1603.2 958.9 1604.0 960.7 1604.7 962.6 1605.4 964.4 1606.2 966.3 1607.0 968.1 1607.8 970.0 1608.7 971.8 1609.5 973.6 1610.4 975.4 1611.3 977.2 1612.2 979.0 1613.1 980.7 1614.1 982.5 1615.1 984.3 1616.1 986.0 1617.1 987.7 1618.1 989.4 1619.2 991.1 1620.3 992.8 1621.4 994.5 1622.6 996.1 1623.7 997.7 1624.9 999.4 1626.1 1000.9 1627.3 1002.5 1628.6 1004.1 1629.9 1005.6 1631.2 1007.1 1632.5 1008.6 1633.9 1010.1 1635.3 1011.5 1636.7 1012.9 1638.2 1014.3 1639.7 1015.7 1641.2 1016.9 1642.8 1018.2 1644.4 1019.4 1646.0 1020.5"/>
<path stroke="#0000ff" d="M181.0 1029.0L645.0 1029.0 647.0 1028.7 648.9 1028.2 650.9 1027.7 652.8 1027.1 654.6 1026.4 656.5 1025.6 658.3 1024.7 660.1 1023.8 661.8 1022.8 663.5 1021.7 665.2 1020.6 666.8 1019.4 668.4 1018.2 669.9 1016.9 671.4 1015.6 672.9 1014.3 674.3 1012.9 675.8 1011.5 677.1 1010.0 678.5 1008.5 679.8 1007.0 681.1 1005.5 682.4 1003.9 683.6 1002.4 684.8 1000.8 686.0 999.2 687.2 997.5 688.3 995.9 689.5 994.3 690.6 992.6 691.7 990.9 692.8 989.2 693.8 987.5 694.9 985.8 695.9 984.1 696.9 982.4 697.9 980.7 698.9 978.9 699.9 977.2 700.9 975.4 701.9 973.7 702.8 971.9 703.8 970.1 704.7 968.4 705.6 966.6 706.5 964.8 707.5 963.0 708.4 961.3 709.3 959.5 710.2 957.7 711.1 955.9 712.0 954.1 712.8 952.3 713.7 950.5 714.6 948.7 715.5 946.9 716.4 945.1 717.2 943.3 718.1 941.5 719.0 939.7 719.9 937.9 720.7 936.1 721.6 934.3 722.5 932.5 723.4 930.7 724.2 928.9 725.1 927.1 726.0 925.3 726.9 923.5 727.8 921.7 728.7 919.9 729.6 918.1 730.5 916.3 731.4 914.5 732.3 912.8 733.2 911.0 734.1 909.2 735.0 907.4 736.0 905.6 736.9 903.9 737.8 902.1 738.8 900.3 739.7 898.6 740.7 896.8 741.6 895.0 742.5 893.3 743.5 891.5 744.5 889.7 745.4 888.0 746.4 886.2 747.3 884.5 748.3 882.7 749.2 881.0 750.2 879.2 751.2 877.4 752.1 875.7 753.1 873.9 754.0 872.2 755.0 870.4 756.0 868.7 756.9 866.9 757.9 865.1 758.8 863.4 759.8 861.6 760.7 859.8 761.7 858.1 762.6 856.3 763.6 854.5 764.5 852.8 765.4 851.0 766.4 849.2 767.3 847.5 768.2 845.7 769.1 843.9 770.0 842.1 770.9 840.3 771.8 838.5 772.7 836.7 773.6 835.0 774.5 833.2 775.4 831.4 776.3 829.6 777.1 827.7 778.0 825.9 778.8 824.1 779.7 822.3 780.6 820.5 781.4 818.7 782.2 816.9 783.1 815.1 783.9 813.2 784.8 811.4 785.6 809.6 786.4 807.8 787.2 805.9 788.1 804.1 788.9 802.3 789.7 800.5 790.5 798.6 791.3 796.8 792.1 795.0 792.9 793.1 793.7 791.3 794.5 789.5 795.3 787.6 796.1 785.8 796.9 784.0 797.7 782.1 798.5 780.3 799.3 778.4 800.1 776.6 800.9 774.8 801.7 772.9 802.5 771.1 803.2 769.2 804.0 767.4 804.8 765.5 805.6 763.7 806.4 761.9 807.2 760.0 807.9 758.2 808.7 756.3 809.5 754.5 810.3 752.6 811.1 750.8 811.8 749.0 812.6 747.1 813.4 745.3 814.2 743.4 814.9 741.6 815.7 739.7 816.5 737.9 817.2 736.0 818.0 734.2 818.8 732.3 819.5 730.5 820.3 728.6 821.1 726.8 821.8 724.9 822.6 723.1 823.3 721.2 824.1 719.3 824.9 717.5 825.6 715.6 826.4 713.8 827.1 711.9 827.9 710.1 828.6 708.2 829.4 706.4 830.1 704.5 830.8 702.6 831.6 700.8 832.3 698.9 833.1 697.1 833.8 695.2 834.5 693.3 835.3 691.5 836.0 689.6 836.7 687.7 837.5 685.9 838.2 684.0 838.9 682.1 839.6 680.3 840.4 678.4 841.1 676.5 841.8 674.7 842.5 672.8 843.2 670.9 844.0 669.1 844.7 667.2 845.4 665.3 846.1 663.4 846.8 661.6 847.5 659.7 848.3 657.8 849.0 656.0 849.7 654.1 850.4 652.2 851.2 650.4 851.9 648.5 852.7 646.7 853.4 644.8 854.2 643.0 855.0 641.1 855.8 639.3 856.6 637.5 857.5 635.6 858.3 633.8 859.2 632.0 860.0 630.2 860.9 628.4 861.7 626.6 862.6 624.8 863.4 622.9 864.2 621.1 865.0 619.3 865.8 617.4 866.5 615.6 867.3 613.7 868.1 611.9 868.8 610.0 869.6 608.2 870.4 606.3 871.1 604.5 871.9 602.6 872.6 600.8 873.4 598.9 874.1 597.0 874.9 595.2 875.6 593.3 876.3 591.5 877.1 589.6 877.8 587.7 878.6 585.9 879.3 584.0 880.0 582.2 880.8 580.3 881.5 578.4 882.2 576.6 883.0 574.7 883.7 572.8 884.5 571.0 885.2 569.1 885.9 567.2 886.6 565.4 887.4 563.5 888.1 561.7 888.8 559.8 889.6 557.9 890.3 556.1 891.0 554.2 891.7 552.3 892.5 550.5 893.2 548.6 893.9 546.7 894.7 544.9 895.4 543.0 896.1 541.1 896.8 539.3 897.6 537.4 898.3 535.5 899.0 533.7 899.7 531.8 900.5 529.9 901.2 528.1 901.9 526.2 902.6 524.3 903.4 522.5 904.1 520.6 904.8 518.7 905.5 516.9 906.3 515.0 907.0 513.1 907.7 511.3 908.4 509.4 909.2 507.5 909.9 505.7 910.6 503.8 911.4 501.9 912.1 500.1 912.8 498.2 913.5 496.3 914.3 494.5 915.0 492.6 915.7 490.7 916.5 488.9 917.2 487.0 917.9 485.2 918.7 483.3 919.4 481.4 920.1 479.6 920.9 477.7 921.6 475.8 922.4 474.0 923.1 472.1 923.8 470.3 924.6 468.4 925.3 466.5 926.1 464.7 926.8 462.8 927.5 461.0 928.3 459.1 929.0 457.2 929.8 455.4 930.5 453.5 931.3 451.7 932.0 449.8 932.8 448.0 933.6 446.1 934.3 444.3 935.1 442.4 935.8 440.5 936.6 438.7 937.3 436.8 938.1 435.0 938.9 433.1 939.6 431.3 940.4 429.4 941.2 427.6 941.9 425.7 942.7 423.9 943.5 422.0 944.2 420.2 945.0 418.3 945.8 416.5 946.5 414.6 947.3 412.8 948.1 410.9 948.9 409.1 949.6 407.2 950.4 405.4 951.2 403.6 951.9 401.7 952.7 399.9 953.5 398.0 954.2 396.2 955.0 394.3 955.8 392.5 956.6 390.6 957.3 388.8 958.1 386.9 958.9 385.1 959.6 383.2 960.4 381.4 961.2 379.5 961.9 377.7 962.7 375.8 963.5 374.0 964.2 372.1 965.0 370.3 965.7 368.4 966.5 366.5 967.3 364.7 968.0 362.8 968.8 361.0 969.5 359.1 970.3 357.3 971.0 355.4 971.8 353.6 972.6 351.7 973.4 349.9 974.1 348.0 974.9 346.2 975.7 344.4 976.6 342.5 977.4 340.7 978.2 338.9 979.1 337.1 980.0 335.3 980.9 333.5 981.8 331.7 982.8 330.0 983.8 328.2 984.8 326.5 985.8 324.8 986.9 323.1 988.0 321.4 989.2 319.8 990.4 318.2 991.6 316.6 992.9 315.1 994.2 313.6 995.6 312.1 997.0 310.7 998.4 309.3 999.8 307.9 1001.2 306.5 1002.7 305.1 1004.1 303.7 1005.6 302.3 1007.2 301.1 1008.8 300.0 1010.6 299.1 1012.5 298.4 1014.5 298.1 1016.5 298.2 1018.4 298.5 1020.3 299.2 1022.1 300.1 1023.8 301.2 1025.4 302.4 1026.9 303.8 1028.3 305.2 1029.7 306.6 1031.0 308.1 1032.2 309.7 1033.4 311.3 1034.6 312.9 1035.7 314.6 1036.8 316.3 1037.9 318.0 1038.9 319.7 1040.0 321.4 1041.0 323.1 1042.0 324.8 1043.0 326.6 1043.9 328.3 1044.9 330.1 1045.8 331.9 1046.8 333.6 1047.7 335.4 1048.6 337.2 1049.5 339.0 1050.4 340.8 1051.2 342.6 1052.1 344.4 1053.0 346.2 1053.8 348.0 1054.7 349.8 1055.5 351.6 1056.4 353.5 1057.3 355.3 1058.1 357.1 1059.0 358.9 1059.9 360.7 1060.8 362.5 1061.7 364.2 1062.6 366.0 1063.5 367.8 1064.5 369.5 1065.5 371.3 1066.5 373.0 1067.6 374.7 1068.7 376.4 1069.8 378.0 1071.0 379.7 1072.2 381.3 1073.4 382.8 1074.8 384.3 1076.2 385.7 1077.7 387.1 1079.3 388.2 1081.0 389.3 1082.9 390.0 1084.8 390.4 1086.8 390.4 1088.8 390.0 1090.6 389.2 1092.3 388.2 1093.9 387.0 1095.4 385.6 1096.8 384.2 1098.1 382.7 1099.4 381.1 1100.5 379.5 1101.6 377.8 1102.7 376.1 1103.7 374.4 1104.7 372.6 1105.6 370.8 1106.5 369.1 1107.3 367.2 1108.2 365.4 1109.0 363.6 1109.8 361.8 1110.6 359.9 1111.3 358.1 1112.0 356.2 1112.8 354.3 1113.5 352.4 1114.2 350.6 1114.8 348.7 1115.5 346.8 1116.1 344.9 1116.8 343.0 1117.4 341.1 1118.0 339.2 1118.7 337.3 1119.3 335.4 1119.9 333.5 1120.5 331.6 1121.1 329.7 1121.7 327.8 1122.3 325.8 1122.9 323.9 1123.5 322.0 1124.1 320.1 1124.7 318.2 1125.4 316.3 1126.0 314.4 1126.6 312.5 1127.2 310.6 1127.9 308.7 1128.5 306.8 1129.2 304.9 1129.9 303.0 1130.5 301.1 1131.2 299.3 1131.9 297.4 1132.7 295.5 1133.4 293.7 1134.2 291.8 1135.0 290.0 1135.8 288.1 1136.6 286.3 1137.4 284.5 1138.3 282.7 1139.2 280.9 1140.1 279.1 1141.1 277.4 1142.1 275.6 1143.1 273.9 1144.2 272.2 1145.3 270.5 1146.4 268.9 1147.6 267.3 1148.9 265.8 1150.2 264.3 1151.7 262.9 1153.2 261.6 1154.8 260.4 1156.5 259.4 1158.4 258.6 1160.3 258.1 1162.3 258.0 1164.3 258.3 1166.2 259.0 1167.9 259.9 1169.5 261.1 1171.0 262.4 1172.4 263.9 1173.8 265.4 1175.0 266.9 1176.2 268.5 1177.4 270.1 1178.5 271.8 1179.6 273.5 1180.6 275.2 1181.6 276.9 1182.6 278.7 1183.6 280.4 1184.5 282.2 1185.4 284.0 1186.3 285.8 1187.2 287.6 1188.0 289.4 1188.9 291.2 1189.7 293.0 1190.6 294.9 1191.4 296.7 1192.2 298.5 1193.1 300.3 1193.9 302.1 1194.8 303.9 1195.6 305.7 1196.5 307.6 1197.3 309.4 1198.2 311.2 1199.1 313.0 1199.9 314.8 1200.8 316.6 1201.6 318.4 1202.5 320.2 1203.3 322.0 1204.2 323.8 1205.1 325.7 1205.9 327.5 1206.8 329.3 1207.6 331.1 1208.5 332.9 1209.3 334.7 1210.2 336.5 1211.0 338.3 1211.9 340.2 1212.7 342.0 1213.6 343.8 1214.4 345.6 1215.2 347.4 1216.1 349.2 1216.9 351.1 1217.8 352.9 1218.6 354.7 1219.4 356.5 1220.2 358.4 1221.1 360.2 1221.9 362.0 1222.7 363.8 1223.5 365.7 1224.3 367.5 1225.1 369.3 1225.9 371.2 1226.7 373.0 1227.5 374.8 1228.3 376.7 1229.1 378.5 1229.8 380.4 1230.6 382.2 1231.4 384.1 1232.1 385.9 1232.9 387.8 1233.6 389.6 1234.4 391.5 1235.1 393.4 1235.8 395.2 1236.6 397.1 1237.3 399.0 1238.0 400.9 1238.7 402.7 1239.4 404.6 1240.1 406.5 1240.7 408.4 1241.4 410.3 1242.1 412.1 1242.7 414.0 1243.4 415.9 1244.0 417.8 1244.7 419.7 1245.3 421.6 1245.9 423.5 1246.6 425.4 1247.2 427.3 1247.8 429.2 1248.4 431.1 1249.0 433.1 1249.6 435.0 1250.2 436.9 1250.7 438.8 1251.3 440.7 1251.9 442.6 1252.4 444.6 1253.0 446.5 1253.5 448.4 1254.1 450.3 1254.6 452.3 1255.1 454.2 1255.7 456.1 1256.2 458.1 1256.7 460.0 1257.2 461.9 1257.7 463.9 1258.2 465.8 1258.7 467.8 1259.2 469.7 1259.7 471.6 1260.2 473.6 1260.7 475.5 1261.1 477.5 1261.6 479.4 1262.1 481.4 1262.5 483.3 1263.0 485.3 1263.4 487.2 1263.9 489.2 1264.3 491.1 1264.8 493.1 1265.2 495.0 1265.6 497.0 1266.1 499.0 1266.5 500.9 1266.9 502.9 1267.3 504.8 1267.7 506.8 1268.2 508.7 1268.6 510.7 1269.0 512.7 1269.4 514.6 1269.8 516.6 1270.2 518.6 1270.6 520.5 1271.0 522.5 1271.3 524.4 1271.7 526.4 1272.1 528.4 1272.5 530.3 1272.9 532.3 1273.2 534.3 1273.6 536.2 1274.0 538.2 1274.3 540.2 1274.7 542.2 1275.0 544.1 1275.4 546.1 1275.8 548.1 1276.1 550.0 1276.5 552.0 1276.8 554.0 1277.1 556.0 1277.5 557.9 1277.8 559.9 1278.2 561.9 1278.5 563.8 1278.8 565.8 1279.2 567.8 1279.5 569.8 1279.8 571.7 1280.2 573.7 1280.5 575.7 1280.8 577.7 1281.1 579.7 1281.5 581.6 1281.8 583.6 1282.1 585.6 1282.4 587.6 1282.7 589.5 1283.0 591.5 1283.3 593.5 1283.7 595.5 1284.0 597.5 1284.3 599.4 1284.6 601.4 1284.9 603.4 1285.2 605.4 1285.5 607.3 1285.8 609.3 1286.1 611.3 1286.4 613.3 1286.7 615.3 1287.0 617.2 1287.3 619.2 1287.6 621.2 1287.9 623.2 1288.2 625.2 1288.5 627.2 1288.8 629.1 1289.1 631.1 1289.3 633.1 1289.6 635.1 1289.9 637.1 1290.2 639.0 1290.5 641.0 1290.8 643.0 1291.1 645.0 1291.4 647.0 1291.7 648.9 1291.9 650.9 1292.2 652.9 1292.5 654.9 1292.8 656.9 1293.1 658.9 1293.4 660.8 1293.6 662.8 1293.9 664.8 1294.2 666.8 1294.5 668.8 1294.8 670.8 1295.1 672.7 1295.3 674.7 1295.6 676.7 1295.9 678.7 1296.2 680.7 1296.5 682.7 1296.7 684.6 1297.0 686.6 1297.3 688.6 1297.6 690.6 1297.9 692.6 1298.1 694.6 1298.4 696.5 1298.7 698.5 1299.0 700.5 1299.3 702.5 1299.5 704.5 1299.8 706.5 1300.1 708.4 1300.4 710.4 1300.6 712.4 1300.9 714.4 1301.2 716.4 1301.5 718.3 1301.8 720.3 1302.0 722.3 1302.3 724.3 1302.6 726.3 1302.9 728.3 1303.2 730.2 1303.4 732.2 1303.7 734.2 1304.0 736.2 1304.3 738.2 1304.6 740.2 1304.8 742.1 1305.1 744.1 1305.4 746.1 1305.7 748.1 1306.0 750.1 1306.3 752.1 1306.5 754.0 1306.8 756.0 1307.1 758.0 1307.4 760.0 1307.7 762.0 1308.0 763.9 1308.3 765.9 1308.6 767.9 1308.8 769.9 1309.1 771.9 1309.4 773.9 1309.7 775.8 1310.0 777.8 1310.3 779.8 1310.6 781.8 1310.9 783.8 1311.2 785.7 1311.5 787.7 1311.8 789.7 1312.1 791.7 1312.4 793.7 1312.7 795.6 1313.0 797.6 1313.3 799.6 1313.6 801.6 1313.9 803.6 1314.2 805.5 1314.5 807.5 1314.8 809.5 1315.1 811.5 1315.4 813.5 1315.7 815.4 1316.0 817.4 1316.4 819.4 1316.7 821.4 1317.0 823.3 1317.3 825.3 1317.6 827.3 1318.0 829.3 1318.3 831.3 1318.6 833.2 1318.9 835.2 1319.3 837.2 1319.6 839.2 1319.9 841.1 1320.3 843.1 1320.6 845.1 1321.0 847.0 1321.3 849.0 1321.7 851.0 1322.0 853.0 1322.4 854.9 1322.7 856.9 1323.1 858.9 1323.4 860.8 1323.8 862.8 1324.1 864.8 1324.5 866.8 1324.9 868.7 1325.3 870.7 1325.6 872.7 1326.0 874.6 1326.4 876.6 1326.8 878.6 1327.2 880.5 1327.5 882.5 1327.9 884.5 1328.3 886.4 1328.7 888.4 1329.1 890.3 1329.5 892.3 1329.9 894.3 1330.4 896.2 1330.8 898.2 1331.2 900.1 1331.6 902.1 1332.0 904.1 1332.5 906.0 1332.9 908.0 1333.3 909.9 1333.8 911.9 1334.2 913.8 1334.7 915.8 1335.1 917.7 1335.6 919.7 1336.1 921.6 1336.5 923.6 1337.0 925.5 1337.5 927.5 1337.9 929.4 1338.4 931.4 1338.9 933.3 1339.4 935.2 1339.9 937.2 1340.4 939.1 1340.9 941.0 1341.4 943.0 1342.0 944.9 1342.5 946.8 1343.0 948.8 1343.6 950.7 1344.1 952.6 1344.7 954.5 1345.3 956.5 1345.9 958.4 1346.5 960.3 1347.1 962.2 1347.7 964.1 1348.3 966.0 1349.0 967.9 1349.6 969.8 1350.3 971.7 1351.0 973.6 1351.7 975.4 1352.4 977.3 1353.1 979.2 1353.9 981.0 1354.6 982.9 1355.4 984.7 1356.2 986.6 1357.0 988.4 1357.9 990.2 1358.7 992.0 1359.6 993.8 1360.6 995.6 1361.6 997.3 1362.6 999.0 1363.6 1000.7 1364.7 1002.4 1365.9 1004.0 1367.1 1005.6 1368.4 1007.1 1369.8 1008.6 1371.3 1010.0 1372.8 1011.2 1374.4 1012.4 1376.1 1013.5 1377.9 1014.4 1379.7 1015.2 1381.6 1015.9 1383.5 1016.5 1385.5 1016.9 1387.5 1017.2 1389.5 1017.4 1391.5 1017.5 1393.5 1017.6 1395.5 1017.5 1397.5 1017.5 1399.5 1017.4 1401.5 1017.2 1403.5 1017.1 1405.5 1016.9 1407.4 1016.7 1409.4 1016.4 1411.4 1016.1 1413.4 1015.9 1415.4 1015.7 1417.4 1015.6 1419.4 1015.6 1421.4 1015.7 1423.4 1015.9 1425.4 1016.1 1427.4 1016.4 1429.3 1016.8 1431.3 1017.2 1433.2 1017.7 1435.2 1018.2 1437.1 1018.7 1439.1 1019.2 1441.0 1019.7 1442.9 1020.3 1444.8 1020.8 1446.8 1021.3 1448.7 1021.8 1450.7 1022.3 1452.6 1022.7 1454.6 1023.1 1456.6 1023.4 1458.6 1023.7 1460.5 1023.9 1462.5 1024.0 1464.5 1024.1 1466.5 1024.1 1468.5 1024.0 1470.5 1023.9 1472.5 1023.7 1474.5 1023.4 1476.5 1023.1 1478.5 1022.7 1480.4 1022.2 1482.3 1021.6 1484.2 1020.9 1486.1 1020.2 1487.9 1019.4 1489.7 1018.6 1491.5 1017.6 1493.2 1016.6 1494.9 1015.6 1496.6 1014.5 1498.3 1013.4 1499.9 1012.2 1501.5 1011.0 1503.1 1009.7 1504.6 1008.5 1506.2 1007.2 1507.7 1005.9 1509.2 1004.6 1510.7 1003.3 1512.3 1002.0 1513.8 1000.7 1515.3 999.4 1516.8 998.1 1518.4 996.8 1519.9 995.6 1521.5 994.3 1523.0 993.1 1524.6 991.9 1526.3 990.7 1527.9 989.5 1529.6 988.4 1531.3 987.4 1533.0 986.4 1534.8 985.4 1536.6 984.5 1538.4 983.7 1540.3 983.0 1542.1 982.3 1544.0 981.6 1546.0 981.1 1547.9 980.6 1549.9 980.2 1551.8 979.9 1553.8 979.7 1555.8 979.5 1557.8 979.5 1559.8 979.5 1561.8 979.6 1563.8 979.9 1565.8 980.2 1567.8 980.6 1569.7 981.0 1571.6 981.6 1573.5 982.3 1575.4 983.0 1577.2 983.9 1579.0 984.8 1580.7 985.7 1582.5 986.7 1584.2 987.8 1585.9 988.9 1587.5 990.0 1589.1 991.2 1590.7 992.4 1592.3 993.6 1593.9 994.8 1595.5 996.1 1597.0 997.3 1598.6 998.6 1600.1 999.9 1601.7 1001.1 1603.2 1002.4 1604.8 1003.7 1606.3 1005.0 1607.8 1006.3 1609.4 1007.5 1611.0 1008.8 1612.5 1010.0 1614.1 1011.2 1615.7 1012.4 1617.4 1013.6 1619.0 1014.7 1620.7 1015.9 1622.3 1016.9 1624.0 1018.0 1625.8 1019.0 1627.5 1020.0 1629.3 1021.0 1631.0 1021.9 1632.8 1022.8 1634.7 1023.6 1636.5 1024.4 1638.4 1025.1 1640.2 1025.8 1642.2 1026.4 1644.1 1027.0 1646.0 1027.5"/>
<path stroke="#ff8000" d="M390.8 996.7L391.8 995.0 392.8 993.3 393.9 991.5 394.9 989.8 395.9 988.1 396.8 986.3 397.8 984.6 398.8 982.8 399.7 981.1 400.7 979.3 401.7 977.5 402.6 975.8 403.6 974.0 404.5 972.2 405.4 970.5 406.4 968.7 407.3 966.9 408.2 965.1 409.2 963.4 410.1 961.6 411.0 959.8 411.9 958.0 412.8 956.3 413.8 954.5 414.7 952.7 415.6 950.9 416.5 949.1 417.5 947.4 418.4 945.6 419.3 943.8 420.2 942.0 421.2 940.2 422.1 938.5 423.0 936.7 423.9 934.9 424.9 933.2 425.8 931.4 426.8 929.6 427.7 927.8 428.7 926.1 429.6 924.3 430.6 922.6 431.5 920.8 432.5 919.0 433.5 917.3 434.4 915.5 435.4 913.8 436.4 912.1 437.4 910.3 438.4 908.6 439.4 906.9 440.5 905.1 441.5 903.4 442.5 901.7 443.6 900.0 444.6 898.3 445.7 896.6 446.8 894.9 447.9 893.3 449.0 891.6 450.1 889.9 451.3 888.3 452.4 886.6 453.6 885.0 454.7 883.4 455.9 881.8 457.2 880.2 458.4 878.6 459.6 877.0 460.9 875.5 462.2 873.9 463.5 872.4 464.8 870.9 466.1 869.4 467.5 867.9 468.9 866.5 470.3 865.1 471.7 863.7 473.2 862.3 474.7 860.9 476.2 859.6 477.7 858.3 479.2 857.0 480.8 855.8 482.4 854.6 484.0 853.4 485.7 852.3 487.4 851.2 489.1 850.1 490.8 849.1 492.5 848.2 494.3 847.3 496.1 846.4 498.0 845.6 499.8 844.9 501.7 844.2 503.6 843.6 505.6 843.1 507.5 842.6 509.5 842.2 511.5 842.0 513.5 841.8 515.5 841.7 517.5 841.7 519.5 841.8 521.5 842.0 523.5 842.2 525.4 842.5 527.4 842.9 529.3 843.4 531.3 843.9 533.2 844.5 535.1 845.2 537.0 845.9 538.8 846.6 540.7 847.4 542.5 848.2 544.3 849.1 546.1 849.9 547.9 850.9 549.7 851.8 551.4 852.8 553.2 853.8 554.9 854.8 556.6 855.8 558.3 856.9 560.0 857.9 561.7 859.0 563.4 860.1 565.0 861.2 566.7 862.3 568.4 863.5 570.0 864.6 571.7 865.7 573.3 866.9 575.0 868.0 576.6 869.1 578.3 870.3 579.9 871.4 581.6 872.5 583.2 873.7 584.9 874.8 586.6 875.9 588.2 877.0 589.9 878.1 591.6 879.1 593.3 880.2 595.0 881.2 596.8 882.2 598.5 883.2 600.3 884.2 602.0 885.2 603.8 886.1 605.6 886.9 607.4 887.8 609.3 888.6 611.1 889.4 613.0 890.1 614.9 890.8 616.8 891.4 618.7 892.0 620.6 892.5 622.6 893.0 624.5 893.3 626.5 893.7 628.5 893.9 630.5 894.1 632.5 894.3 634.5 894.3 636.5 894.3 638.5 894.2 640.5 894.1 642.5 893.9 644.5 893.6 646.4 893.2 648.4 892.8 650.3 892.3 652.3 891.7 654.2 891.1 656.0 890.4 657.9 889.7 659.7 888.8 661.5 888.0 663.3 887.0 665.0 886.0 666.7 885.0 668.4 883.8 670.0 882.7 671.6 881.5 673.2 880.3 674.8 879.0 676.3 877.8 677.8 876.4 679.3 875.1 680.8 873.7 682.3 872.4 683.7 871.0 685.1 869.6 686.5 868.1 687.9 866.7 689.3 865.3 690.7 863.8 692.1 862.3 693.4 860.9 694.8 859.4 696.1 857.9 697.5 856.4 698.8 854.9 700.1 853.4 701.5 851.9 702.8 850.4 704.1 848.9 705.4 847.4 706.7 845.9 708.0 844.4 709.3 842.9 710.6 841.3 711.9 839.8 713.2 838.3 714.5 836.7 715.8 835.2 717.0 833.6 718.3 832.1 719.6 830.5 720.8 828.9 722.0 827.4 723.3 825.8 724.5 824.2 725.7 822.6 726.9 821.0 728.1 819.4 729.3 817.8 730.5 816.2 731.7 814.6 732.9 812.9 734.0 811.3 735.2 809.7 736.4 808.0 737.5 806.4 738.6 804.8 739.8 803.1 740.9 801.5 742.0 799.8 743.2 798.1 744.3 796.5 745.4 794.8 746.5 793.2 747.6 791.5 748.7 789.8 749.9 788.2 751.0 786.5 752.1 784.8 753.2 783.1 754.3 781.5 755.4 779.8 756.5 778.1 757.6 776.5 758.7 774.8 759.8 773.1 760.9 771.5 762.0 769.8 763.2 768.1 764.3 766.5 765.4 764.8 766.5 763.1 767.6 761.5 768.8 759.8 769.9 758.2 771.0 756.5 772.2 754.9 773.3 753.3 774.5 751.6 775.7 750.0 776.8 748.4 778.0 746.7 779.2 745.1 780.4 743.5 781.5 741.9 782.7 740.3 783.9 738.7 785.1 737.1 786.4 735.5 787.6 733.9 788.8 732.3 790.0 730.7 791.2 729.1 792.5 727.5 793.7 726.0 795.0 724.4 796.2 722.8 797.5 721.3 798.7 719.7 800.0 718.2 801.3 716.6 802.5 715.1 803.8 713.5 805.1 712.0 806.4 710.5 807.7 708.9 809.0 707.4 810.3 705.9 811.6 704.4 813.0 702.9 814.3 701.4 815.7 699.9 817.0 698.5 818.4 697.0 819.8 695.5 821.2 694.1 822.6 692.7 824.0 691.2 825.4 689.8 826.8 688.4 828.2 687.0 829.7 685.6 831.1 684.2 832.6 682.8 834.0 681.5 835.5 680.1 837.0 678.8 838.5 677.4 840.0 676.1 841.5 674.7 843.0 673.4 844.5 672.1 846.0 670.8 847.5 669.5 849.0 668.2 850.5 666.9 852.1 665.6 853.6 664.3 855.1 663.0 856.7 661.7 858.2 660.4 859.7 659.1 861.3 657.9 862.8 656.6 864.4 655.3 865.9 654.0 867.5 652.8 869.0 651.5 870.6 650.2 872.1 649.0 873.7 647.7 875.2 646.4 876.8 645.2 878.3 643.9 879.9 642.6 881.4 641.3 883.0 640.1 884.5 638.8 886.1 637.5 887.6 636.2 889.1 634.9 890.7 633.7 892.2 632.4 893.7 631.1 895.2 629.8 896.8 628.4 898.3 627.1 899.8 625.8 901.3 624.5 902.8 623.2 904.3 621.8 905.7 620.5 907.2 619.1 908.7 617.8 910.2 616.4 911.6 615.0 913.1 613.7 914.5 612.3 916.0 610.9 917.4 609.5 918.8 608.0 920.2 606.6 921.6 605.2 923.0 603.7 924.4 602.3 925.8 600.8 927.1 599.4 928.5 597.9 929.8 596.4 931.1 594.9 932.4 593.4 933.7 591.8 935.0 590.3 936.3 588.7 937.5 587.2 938.8 585.6 940.0 584.0 941.2 582.4 942.4 580.8 943.6 579.2 944.8 577.6 945.9 575.9 947.0 574.3 948.2 572.6 949.3 571.0 950.4 569.3 951.4 567.6 952.5 565.9 953.5 564.2 954.6 562.5 955.6 560.7 956.6 559.0 957.6 557.3 958.6 555.5 959.6 553.8 960.6 552.0 961.5 550.3 962.5 548.5 963.4 546.8 964.4 545.0 965.3 543.2 966.2 541.4 967.2 539.7 968.1 537.9 969.0 536.1 969.9 534.3 970.8 532.5 971.7 530.7 972.6 528.9 973.5 527.2 974.4 525.4 975.3 523.6 976.2 521.8 977.1 520.0 978.0 518.2 978.9 516.4 979.8 514.6 980.7 512.8 981.6 511.0 982.5 509.2 983.4 507.4 984.3 505.7 985.2 503.9 986.1 502.1 987.0 500.3 987.9 498.5 988.8 496.7 989.7 495.0 990.6 493.2 991.6 491.4 992.5 489.6 993.4 487.8 994.3 486.1 995.3 484.3 996.2 482.5 997.2 480.7 998.1 479.0 999.0 477.2 1000.0 475.4 1000.9 473.7 1001.9 471.9 1002.8 470.2 1003.8 468.4 1004.8 466.6 1005.7 464.9 1006.7 463.1 1007.7 461.4 1008.6 459.6 1009.6 457.9 1010.6 456.1 1011.6 454.4 1012.6 452.6 1013.6 450.9 1014.6 449.2 1015.6 447.4 1016.6 445.7 1017.6 444.0 1018.6 442.2 1019.6 440.5 1020.6 438.8 1021.6 437.1 1022.7 435.3 1023.7 433.6 1024.7 431.9 1025.8 430.2 1026.8 428.5 1027.9 426.8 1028.9 425.1 1030.0 423.4 1031.0 421.7 1032.1 420.0 1033.1 418.2 1034.2 416.5 1035.2 414.8 1036.3 413.1 1037.3 411.4 1038.4 409.7 1039.4 408.0 1040.4 406.3 1041.5 404.6 1042.5 402.9 1043.5 401.1 1044.5 399.4 1045.6 397.7 1046.6 396.0 1047.6 394.2 1048.6 392.5 1049.6 390.7 1050.6 389.0 1051.5 387.3 1052.5 385.5 1053.5 383.7 1054.4 382.0 1055.4 380.2 1056.3 378.4 1057.3 376.7 1058.2 374.9 1059.1 373.1 1060.0 371.3 1060.9 369.5 1061.8 367.7 1062.7 365.9 1063.6 364.1 1064.4 362.3 1065.3 360.5 1066.1 358.7 1067.0 356.9 1067.8 355.1 1068.7 353.3 1069.5 351.4 1070.3 349.6 1071.1 347.8 1071.9 346.0 1072.7 344.1 1073.5 342.3 1074.3 340.4 1075.1 338.6 1075.9 336.7 1076.6 334.9 1077.4 333.0 1078.2 331.2 1078.9 329.3 1079.6 327.5 1080.4 325.6 1081.1 323.7 1081.8 321.9 1082.5 320.0 1083.2 318.1 1083.9 316.2 1084.6 314.3 1085.3 312.5 1086.0 310.6 1086.6 308.7 1087.3 306.8 1087.9 304.9 1088.6 303.0 1089.2 301.1 1089.9 299.2 1090.5 297.3 1091.1 295.4 1091.7 293.5 1092.3 291.6 1092.9 289.7 1093.5 287.8 1094.1 285.8 1094.7 283.9 1095.3 282.0 1095.9 280.1 1096.5 278.2 1097.1 276.3 1097.7 274.4 1098.3 272.4 1098.8 270.5 1099.4 268.6 1100.0 266.7 1100.6 264.8 1101.2 262.9 1101.8 260.9 1102.3 259.0 1102.9 257.1 1103.5 255.2 1104.1 253.3 1104.7 251.4 1105.4 249.5 1106.0 247.6 1106.6 245.7 1107.2 243.8 1107.9 241.9 1108.5 240.0 1109.1 238.1 1109.8 236.2 1110.5 234.3 1111.1 232.4 1111.8 230.5 1112.5 228.6 1113.2 226.7 1113.9 224.9 1114.6 223.0 1115.4 221.1 1116.1 219.3 1116.8 217.4 1117.6 215.6 1118.4 213.7 1119.2 211.9 1120.0 210.1 1120.9 208.2 1121.7 206.4 1122.6 204.6 1123.6 202.9 1124.5 201.1 1125.5 199.4 1126.6 197.7 1127.7 196.0 1128.9 194.4 1130.2 192.9 1131.6 191.4 1133.1 190.1 1134.7 188.9 1136.4 187.9 1138.3 187.2 1140.3 186.9 1142.3 186.8 1144.2 187.1 1146.2 187.7 1148.0 188.6 1149.7 189.7 1151.2 190.9 1152.6 192.3 1153.9 193.9 1155.1 195.5 1156.2 197.2 1157.2 198.9 1158.2 200.7 1159.0 202.5 1159.8 204.3 1160.6 206.1 1161.3 208.0 1162.0 209.9 1162.7 211.8 1163.3 213.7 1163.9 215.6 1164.5 217.5 1165.1 219.4 1165.6 221.4 1166.1 223.3 1166.6 225.2 1167.1 227.2 1167.6 229.1 1168.1 231.1 1168.6 233.0 1169.1 235.0 1169.5 236.9 1170.0 238.8 1170.5 240.8 1170.9 242.7 1171.4 244.7 1171.8 246.7 1172.2 248.6 1172.7 250.6 1173.1 252.5 1173.5 254.5 1174.0 256.4 1174.4 258.4 1174.8 260.4 1175.2 262.3 1175.6 264.3 1176.0 266.2 1176.4 268.2 1176.8 270.2 1177.2 272.1 1177.6 274.1 1178.0 276.1 1178.4 278.0 1178.8 280.0 1179.2 282.0 1179.5 283.9 1179.9 285.9 1180.3 287.9 1180.6 289.8 1181.0 291.8 1181.4 293.8 1181.7 295.7 1182.1 297.7 1182.4 299.7 1182.8 301.7 1183.1 303.6 1183.5 305.6 1183.8 307.6 1184.2 309.6 1184.5 311.5 1184.9 313.5 1185.2 315.5 1185.5 317.4 1185.9 319.4 1186.2 321.4 1186.5 323.4 1186.9 325.4 1187.2 327.3 1187.5 329.3 1187.9 331.3 1188.2 333.3 1188.5 335.2 1188.8 337.2 1189.1 339.2 1189.5 341.2 1189.8 343.1 1190.1 345.1 1190.4 347.1 1190.7 349.1 1191.0 351.1 1191.3 353.0 1191.6 355.0 1192.0 357.0 1192.3 359.0 1192.6 361.0 1192.9 362.9 1193.2 364.9 1193.5 366.9 1193.8 368.9 1194.1 370.9 1194.4 372.8 1194.7 374.8 1195.0 376.8 1195.3 378.8 1195.6 380.8 1195.9 382.7 1196.2 384.7 1196.5 386.7 1196.8 388.7 1197.1 390.7 1197.4 392.7 1197.6 394.6 1197.9 396.6 1198.2 398.6 1198.5 400.6 1198.8 402.6 1199.1 404.5 1199.4 406.5 1199.7 408.5 1200.0 410.5 1200.2 412.5 1200.5 414.5 1200.8 416.4 1201.1 418.4 1201.4 420.4 1201.7 422.4 1202.0 424.4 1202.2 426.4 1202.5 428.3 1202.8 430.3 1203.1 432.3 1203.4 434.3 1203.6 436.3 1203.9 438.3 1204.2 440.2 1204.5 442.2 1204.7 444.2 1205.0 446.2 1205.3 448.2 1205.6 450.2 1205.8 452.2 1206.1 454.1 1206.4 456.1 1206.7 458.1 1206.9 460.1 1207.2 462.1 1207.5 464.1 1207.7 466.1 1208.0 468.0 1208.3 470.0 1208.5 472.0 1208.8 474.0 1209.1 476.0 1209.3 478.0 1209.6 480.0 1209.9 481.9 1210.1 483.9 1210.4 485.9 1210.6 487.9 1210.9 489.9 1211.2 491.9 1211.4 493.9 1211.7 495.8 1211.9 497.8 1212.2 499.8 1212.5 501.8 1212.7 503.8 1213.0 505.8 1213.2 507.8 1213.5 509.8 1213.7 511.7 1214.0 513.7 1214.2 515.7 1214.5 517.7 1214.7 519.7 1215.0 521.7 1215.2 523.7 1215.5 525.7 1215.7 527.6 1216.0 529.6 1216.2 531.6 1216.5 533.6 1216.7 535.6 1217.0 537.6 1217.2 539.6 1217.4 541.6 1217.7 543.5 1217.9 545.5 1218.2 547.5 1218.4 549.5 1218.6 551.5 1218.9 553.5 1219.1 555.5 1219.4 557.5 1219.6 559.5 1219.8 561.4 1220.1 563.4 1220.3 565.4 1220.6 567.4 1220.8 569.4 1221.0 571.4 1221.3 573.4 1221.5 575.4 1221.8 577.4 1222.0 579.4 1222.2 581.3 1222.5 583.3 1222.7 585.3 1222.9 587.3 1223.2 589.3 1223.4 591.3 1223.7 593.3 1223.9 595.3 1224.1 597.3 1224.4 599.2 1224.6 601.2 1224.9 603.2 1225.1 605.2 1225.4 607.2 1225.6 609.2 1225.8 611.2 1226.1 613.2 1226.3 615.2 1226.6 617.1 1226.8 619.1 1227.1 621.1 1227.3 623.1 1227.6 625.1 1227.8 627.1 1228.0 629.1 1228.3 631.1 1228.5 633.0 1228.8 635.0 1229.0 637.0 1229.3 639.0 1229.6 641.0 1229.8 643.0 1230.1 645.0 1230.3 647.0 1230.6 648.9 1230.8 650.9 1231.1 652.9 1231.4 654.9 1231.6 656.9 1231.9 658.9 1232.1 660.9 1232.4 662.8 1232.7 664.8 1232.9 666.8 1233.2 668.8 1233.5 670.8 1233.8 672.8 1234.0 674.8 1234.3 676.7 1234.6 678.7 1234.9 680.7 1235.1 682.7 1235.4 684.7 1235.7 686.7 1236.0 688.6 1236.3 690.6 1236.6 692.6 1236.9 694.6 1237.1 696.6 1237.4 698.6 1237.7 700.5 1238.0 702.5 1238.3 704.5 1238.6 706.5 1238.9 708.5 1239.2 710.4 1239.5 712.4 1239.9 714.4 1240.2 716.4 1240.5 718.4 1240.8 720.3 1241.1 722.3 1241.4 724.3 1241.7 726.3 1242.1 728.3 1242.4 730.2 1242.7 732.2 1243.0 734.2 1243.4 736.2 1243.7 738.1 1244.1 740.1 1244.4 742.1 1244.7 744.1 1245.1 746.0 1245.4 748.0 1245.8 750.0 1246.1 751.9 1246.5 753.9 1246.8 755.9 1247.2 757.9 1247.5 759.8 1247.9 761.8 1248.3 763.8 1248.6 765.7 1249.0 767.7 1249.4 769.7 1249.8 771.6 1250.2 773.6 1250.5 775.6 1250.9 777.5 1251.3 779.5 1251.7 781.5 1252.1 783.4 1252.5 785.4 1252.9 787.4 1253.3 789.3 1253.7 791.3 1254.1 793.3 1254.5 795.2 1254.9 797.2 1255.4 799.1 1255.8 801.1 1256.2 803.0 1256.6 805.0 1257.1 807.0 1257.5 808.9 1257.9 810.9 1258.4 812.8 1258.8 814.8 1259.3 816.7 1259.7 818.7 1260.2 820.6 1260.6 822.6 1261.1 824.5 1261.6 826.5 1262.0 828.4 1262.5 830.4 1263.0 832.3 1263.5 834.3 1264.0 836.2 1264.4 838.2 1264.9 840.1 1265.4 842.0 1265.9 844.0 1266.4 845.9 1267.0 847.9 1267.5 849.8 1268.0 851.7 1268.5 853.6 1269.1 855.6 1269.6 857.5 1270.2 859.4 1270.8 861.4 1271.3 863.3 1271.9 865.2 1272.5 867.1 1273.1 869.0 1273.7 870.9 1274.3 872.8 1275.0 874.7 1275.6 876.6 1276.3 878.5 1276.9 880.4 1277.6 882.3 1278.3 884.2 1279.0 886.1 1279.7 887.9 1280.4 889.8 1281.1 891.7 1281.9 893.5 1282.7 895.4 1283.4 897.2 1284.2 899.1 1285.0 900.9 1285.9 902.7 1286.7 904.5 1287.6 906.3 1288.4 908.2 1289.3 910.0 1290.2 911.7 1291.1 913.5 1292.1 915.3 1293.0 917.1 1294.0 918.8 1295.0 920.6 1295.9 922.3 1297.0 924.0 1298.0 925.8 1299.0 927.5 1300.0 929.2 1301.1 930.9 1302.1 932.6 1303.2 934.3 1304.3 936.0 1305.3 937.7 1306.4 939.4 1307.5 941.1 1308.6 942.7 1309.7 944.4 1310.8 946.1 1311.9 947.7 1313.1 949.4 1314.2 951.1 1315.3 952.7 1316.4 954.4 1317.5 956.1 1318.6 957.7 1319.8 959.4 1320.9 961.0 1322.0 962.7 1323.1 964.4 1324.2 966.0 1325.3 967.7 1326.4 969.4 1327.5 971.1 1328.6 972.7 1329.7 974.4 1330.8 976.1 1331.9 977.8 1333.0 979.4 1334.1 981.1 1335.3 982.8 1336.4 984.4 1337.5 986.1 1338.6 987.7 1339.8 989.4 1340.9 991.0 1342.1 992.6 1343.3 994.3 1344.5 995.9 1345.7 997.5 1346.9 999.1 1348.1 1000.7 1349.3 1002.2 1350.6 1003.8 1351.9 1005.3 1353.2 1006.8 1354.6 1008.3 1355.9 1009.8 1357.3 1011.2 1358.7 1012.7 1360.2 1014.0 1361.6 1015.4 1363.2 1016.7 1364.7 1018.0 1366.3 1019.2 1367.9 1020.4 1369.6 1021.5 1371.2 1022.6 1373.0 1023.6 1374.7 1024.5 1376.6 1025.4 1378.4 1026.2 1380.3 1026.9 1382.2 1027.5 1384.1 1028.0 1386.1 1028.5 1388.0 1028.8 1390.0 1029.0 1392.0 1029.0 1394.0 1029.0 1396.0 1029.0 1398.0 1029.0 1400.0 1029.0 1644.0 1029.0"/>
<path stroke="#008000" d="M181.0 984.2L182.9 983.4 184.7 982.7 186.6 981.9 188.4 981.2 190.3 980.4 192.1 979.7 194.0 978.9 195.8 978.2 197.7 977.4 199.6 976.7 201.4 976.0 203.3 975.2 205.2 974.5 207.0 973.8 208.9 973.1 210.8 972.3 212.6 971.6 214.5 970.9 216.4 970.2 218.2 969.5 220.1 968.8 222.0 968.1 223.9 967.4 225.7 966.7 227.6 966.0 229.5 965.3 231.4 964.6 233.3 963.9 235.1 963.2 237.0 962.6 238.9 961.9 240.8 961.2 242.7 960.6 244.6 959.9 246.5 959.2 248.4 958.6 250.3 957.9 252.2 957.3 254.0 956.6 255.9 956.0 257.8 955.4 259.7 954.7 261.6 954.1 263.5 953.5 265.5 952.9 267.4 952.3 269.3 951.6 271.2 951.0 273.1 950.4 275.0 949.8 276.9 949.2 278.8 948.7 280.7 948.1 282.7 947.5 284.6 946.9 286.5 946.3 288.4 945.8 290.3 945.2 292.3 944.7 294.2 944.1 296.1 943.6 298.0 943.0 300.0 942.5 301.9 942.0 303.8 941.5 305.8 940.9 307.7 940.4 309.6 939.9 311.6 939.4 313.5 938.9 315.5 938.4 317.4 938.0 319.3 937.5 321.3 937.0 323.2 936.5 325.2 936.1 327.1 935.6 329.1 935.2 331.0 934.7 333.0 934.3 335.0 933.9 336.9 933.4 338.9 933.0 340.8 932.6 342.8 932.2 344.7 931.8 346.7 931.3 348.7 930.9 350.6 930.5 352.6 930.1 354.5 929.8 356.5 929.4 358.5 929.0 360.4 928.6 362.4 928.2 364.4 927.9 366.3 927.5 368.3 927.1 370.3 926.7 372.3 926.4 374.2 926.0 376.2 925.7 378.2 925.3 380.1 925.0 382.1 924.6 384.1 924.3 386.0 923.9 388.0 923.6 390.0 923.2 392.0 922.9 393.9 922.5 395.9 922.2 397.9 921.9 399.9 921.5 401.8 921.2 403.8 920.9 405.8 920.5 407.8 920.2 409.7 919.9 411.7 919.5 413.7 919.2 415.7 918.8 417.6 918.5 419.6 918.2 421.6 917.8 423.5 917.5 425.5 917.2 427.5 916.8 429.5 916.5 431.4 916.2 433.4 915.8 435.4 915.5 437.4 915.1 439.3 914.8 441.3 914.5 443.3 914.1 445.2 913.8 447.2 913.4 449.2 913.1 451.2 912.7 453.1 912.3 455.1 912.0 457.1 911.6 459.0 911.3 461.0 910.9 463.0 910.5 464.9 910.2 466.9 909.8 468.9 909.4 470.8 909.0 472.8 908.7 474.8 908.3 476.7 907.9 478.7 907.5 480.7 907.1 482.6 906.7 484.6 906.3 486.6 905.9 488.5 905.5 490.5 905.1 492.4 904.7 494.4 904.3 496.4 903.8 498.3 903.4 500.3 903.0 502.2 902.5 504.2 902.1 506.1 901.7 508.1 901.2 510.0 900.7 512.0 900.3 513.9 899.8 515.8 899.3 517.8 898.8 519.7 898.3 521.7 897.7 523.6 897.2 525.5 896.6 527.4 896.1 529.3 895.5 531.2 894.8 533.1 894.2 535.0 893.5 536.9 892.8 538.7 892.1 540.6 891.3 542.4 890.5 544.3 889.7 546.1 888.9 547.9 888.0 549.7 887.1 551.4 886.1 553.2 885.2 554.9 884.2 556.7 883.2 558.4 882.2 560.1 881.1 561.8 880.0 563.5 879.0 565.1 877.9 566.8 876.7 568.4 875.6 570.1 874.4 571.7 873.3 573.3 872.1 574.9 870.9 576.5 869.7 578.1 868.5 579.7 867.2 581.3 866.0 582.8 864.7 584.4 863.5 585.9 862.2 587.5 860.9 589.0 859.6 590.5 858.3 592.0 857.0 593.5 855.7 595.0 854.4 596.5 853.0 598.0 851.7 599.5 850.3 600.9 849.0 602.4 847.6 603.8 846.2 605.3 844.8 606.7 843.4 608.2 842.0 609.6 840.6 611.0 839.2 612.4 837.8 613.8 836.3 615.2 834.9 616.6 833.5 617.9 832.0 619.3 830.5 620.7 829.1 622.0 827.6 623.4 826.1 624.7 824.6 626.0 823.1 627.3 821.6 628.6 820.1 629.9 818.6 631.2 817.0 632.5 815.5 633.8 813.9 635.0 812.4 636.3 810.8 637.5 809.2 638.8 807.7 640.0 806.1 641.2 804.5 642.4 802.9 643.6 801.3 644.7 799.6 645.9 798.0 647.0 796.4 648.2 794.7 649.3 793.0 650.4 791.4 651.5 789.7 652.6 788.0 653.6 786.3 654.7 784.6 655.8 782.9 656.8 781.2 657.8 779.5 658.9 777.8 659.9 776.0 660.9 774.3 661.9 772.6 662.9 770.8 663.8 769.1 664.8 767.3 665.8 765.6 666.7 763.8 667.7 762.1 668.6 760.3 669.6 758.5 670.5 756.8 671.4 755.0 672.4 753.2 673.3 751.4 674.2 749.7 675.1 747.9 676.0 746.1 677.0 744.3 677.9 742.5 678.8 740.8 679.7 739.0 680.6 737.2 681.5 735.4 682.4 733.6 683.3 731.8 684.2 730.0 685.1 728.2 686.0 726.5 686.9 724.7 687.8 722.9 688.7 721.1 689.6 719.3 690.4 717.5 691.3 715.7 692.2 713.9 693.1 712.1 694.0 710.3 694.9 708.5 695.7 706.7 696.6 704.9 697.5 703.1 698.4 701.3 699.2 699.5 700.1 697.7 701.0 695.9 701.8 694.1 702.7 692.3 703.6 690.5 704.4 688.7 705.3 686.9 706.1 685.0 707.0 683.2 707.9 681.4 708.7 679.6 709.6 677.8 710.4 676.0 711.3 674.2 712.1 672.4 713.0 670.6 713.8 668.8 714.7 666.9 715.5 665.1 716.4 663.3 717.2 661.5 718.1 659.7 718.9 657.9 719.8 656.0 720.6 654.2 721.4 652.4 722.3 650.6 723.1 648.8 724.0 647.0 724.8 645.1 725.6 643.3 726.5 641.5 727.3 639.7 728.2 637.9 729.0 636.1 729.8 634.2 730.7 632.4 731.5 630.6 732.3 628.8 733.2 627.0 734.0 625.1 734.8 623.3 735.7 621.5 736.5 619.7 737.3 617.9 738.2 616.0 739.0 614.2 739.8 612.4 740.7 610.6 741.5 608.8 742.3 606.9 743.2 605.1 744.0 603.3 744.8 601.5 745.7 599.7 746.5 597.8 747.4 596.0 748.2 594.2 749.0 592.4 749.9 590.6 750.7 588.7 751.6 586.9 752.4 585.1 753.2 583.3 754.1 581.5 754.9 579.7 755.8 577.9 756.6 576.0 757.5 574.2 758.3 572.4 759.2 570.6 760.0 568.8 760.9 567.0 761.8 565.2 762.6 563.4 763.5 561.6 764.4 559.8 765.2 558.0 766.1 556.2 767.0 554.3 767.8 552.5 768.7 550.7 769.6 548.9 770.5 547.2 771.4 545.4 772.2 543.6 773.1 541.8 774.0 540.0 774.9 538.2 775.8 536.4 776.7 534.6 777.6 532.8 778.5 531.0 779.4 529.2 780.3 527.5 781.3 525.7 782.2 523.9 783.1 522.1 784.0 520.4 785.0 518.6 785.9 516.8 786.8 515.0 787.8 513.3 788.7 511.5 789.7 509.7 790.6 508.0 791.6 506.2 792.6 504.5 793.5 502.7 794.5 501.0 795.5 499.3 796.5 497.5 797.5 495.8 798.6 494.1 799.6 492.4 800.6 490.6 801.7 489.0 802.8 487.3 803.9 485.6 805.0 483.9 806.1 482.2 807.2 480.6 808.4 479.0 809.5 477.3 810.7 475.7 811.9 474.1 813.2 472.6 814.4 471.0 815.7 469.5 817.0 467.9 818.3 466.4 819.7 464.9 821.0 463.5 822.4 462.0 823.8 460.6 825.3 459.2 826.8 457.9 828.3 456.5 829.8 455.2 831.3 454.0 832.9 452.7 834.5 451.5 836.1 450.3 837.7 449.2 839.4 448.1 841.1 447.0 842.8 446.0 844.6 445.0 846.3 444.0 848.1 443.1 849.9 442.3 851.8 441.5 853.6 440.8 855.5 440.1 857.4 439.5 859.3 439.0 861.3 438.5 863.3 438.1 865.2 437.8 867.2 437.5 869.2 437.4 871.2 437.3 873.2 437.3 875.2 437.4 877.2 437.6 879.2 437.8 881.2 438.1 883.1 438.6 885.1 439.1 887.0 439.6 888.9 440.3 890.8 441.0 892.6 441.8 894.4 442.6 896.2 443.5 898.0 444.5 899.7 445.4 901.4 446.5 903.1 447.5 904.8 448.6 906.5 449.7 908.1 450.9 909.7 452.0 911.4 453.2 913.0 454.4 914.6 455.6 916.2 456.8 917.7 458.1 919.3 459.3 920.9 460.5 922.5 461.8 924.0 463.0 925.6 464.3 927.2 465.5 928.7 466.8 930.3 468.0 931.8 469.3 933.4 470.5 935.0 471.8 936.5 473.0 938.1 474.3 939.7 475.5 941.3 476.7 942.9 477.9 944.5 479.1 946.1 480.3 947.7 481.5 949.3 482.6 951.0 483.8 952.6 484.9 954.3 486.0 956.0 487.1 957.7 488.2 959.3 489.3 961.0 490.4 962.7 491.4 964.5 492.5 966.2 493.5 967.9 494.5 969.6 495.5 971.4 496.5 973.1 497.5 974.9 498.5 976.6 499.4 978.4 500.4 980.1 501.4 981.9 502.3 983.6 503.3 985.4 504.3 987.1 505.3 988.8 506.3 990.5 507.4 992.2 508.4 993.9 509.5 995.6 510.6 997.2 511.8 998.9 512.9 1000.5 514.1 1002.0 515.3 1003.6 516.6 1005.1 517.9 1006.6 519.2 1008.1 520.6 1009.5 522.0 1010.9 523.4 1012.3 524.8 1013.7 526.3 1015.1 527.8 1016.4 529.3 1017.7 530.8 1019.0 532.3 1020.3 533.8 1021.6 535.4 1022.8 536.9 1024.1 538.5 1025.3 540.1 1026.5 541.7 1027.7 543.2 1029.0 544.8 1030.2 546.4 1031.4 548.1 1032.5 549.7 1033.7 551.3 1034.9 552.9 1036.1 554.5 1037.3 556.1 1038.5 557.7 1039.6 559.4 1040.8 561.0 1042.0 562.6 1043.2 564.2 1044.4 565.8 1045.6 567.4 1046.7 569.0 1047.9 570.7 1049.1 572.3 1050.3 573.9 1051.5 575.5 1052.7 577.1 1053.9 578.7 1055.0 580.3 1056.2 582.0 1057.4 583.6 1058.6 585.2 1059.8 586.8 1061.0 588.4 1062.2 590.0 1063.3 591.6 1064.5 593.2 1065.7 594.9 1066.9 596.5 1068.1 598.1 1069.3 599.7 1070.4 601.3 1071.6 602.9 1072.8 604.6 1074.0 606.2 1075.2 607.8 1076.3 609.4 1077.5 611.0 1078.7 612.7 1079.8 614.3 1081.0 615.9 1082.2 617.6 1083.3 619.2 1084.5 620.8 1085.6 622.5 1086.8 624.1 1087.9 625.8 1089.0 627.4 1090.1 629.1 1091.3 630.7 1092.4 632.4 1093.5 634.1 1094.6 635.8 1095.7 637.4 1096.7 639.1 1097.8 640.8 1098.9 642.5 1099.9 644.2 1100.9 645.9 1102.0 647.7 1103.0 649.4 1104.0 651.1 1105.0 652.8 1106.0 654.6 1107.0 656.3 1107.9 658.1 1108.9 659.8 1109.9 661.6 1110.8 663.4 1111.7 665.1 1112.7 666.9 1113.6 668.7 1114.5 670.5 1115.4 672.2 1116.3 674.0 1117.2 675.8 1118.1 677.6 1119.0 679.4 1119.9 681.2 1120.8 683.0 1121.7 684.8 1122.6 686.6 1123.4 688.4 1124.3 690.2 1125.2 692.0 1126.0 693.8 1126.9 695.6 1127.8 697.4 1128.6 699.2 1129.5 701.0 1130.4 702.8 1131.2 704.6 1132.1 706.4 1132.9 708.3 1133.8 710.1 1134.7 711.9 1135.5 713.7 1136.4 715.5 1137.2 717.3 1138.1 719.1 1139.0 720.9 1139.9 722.7 1140.7 724.5 1141.6 726.3 1142.5 728.1 1143.4 729.9 1144.3 731.7 1145.2 733.5 1146.1 735.2 1147.0 737.0 1147.9 738.8 1148.9 740.6 1149.8 742.3 1150.7 744.1 1151.7 745.9 1152.7 747.6 1153.6 749.4 1154.6 751.1 1155.6 752.9 1156.6 754.6 1157.6 756.3 1158.6 758.0 1159.7 759.8 1160.7 761.5 1161.8 763.2 1162.9 764.9 1164.0 766.5 1165.1 768.2 1166.2 769.9 1167.3 771.5 1168.4 773.2 1169.6 774.8 1170.8 776.4 1172.0 778.0 1173.2 779.6 1174.4 781.2 1175.6 782.8 1176.9 784.4 1178.1 785.9 1179.4 787.5 1180.7 789.0 1182.0 790.5 1183.3 792.0 1184.6 793.5 1186.0 795.0 1187.3 796.5 1188.7 797.9 1190.1 799.4 1191.5 800.8 1192.9 802.2 1194.4 803.6 1195.8 805.0 1197.3 806.4 1198.7 807.7 1200.2 809.0 1201.8 810.4 1203.3 811.7 1204.8 812.9 1206.4 814.2 1207.9 815.4 1209.5 816.7 1211.1 817.9 1212.7 819.0 1214.4 820.2 1216.0 821.4 1217.7 822.5 1219.3 823.6 1221.0 824.7 1222.7 825.7 1224.4 826.8 1226.2 827.8 1227.9 828.8 1229.6 829.8 1231.4 830.8 1233.1 831.8 1234.9 832.7 1236.6 833.7 1238.4 834.6 1240.2 835.6 1241.9 836.5 1243.7 837.5 1245.4 838.4 1247.2 839.4 1249.0 840.3 1250.7 841.3 1252.5 842.3 1254.2 843.3 1255.9 844.3 1257.7 845.3 1259.4 846.3 1261.1 847.4 1262.8 848.4 1264.4 849.5 1266.1 850.7 1267.8 851.8 1269.4 853.0 1271.0 854.1 1272.6 855.4 1274.2 856.6 1275.7 857.9 1277.2 859.2 1278.7 860.5 1280.2 861.8 1281.7 863.2 1283.1 864.6 1284.5 866.0 1285.9 867.4 1287.3 868.9 1288.7 870.4 1290.0 871.9 1291.3 873.4 1292.6 874.9 1293.9 876.4 1295.2 878.0 1296.5 879.5 1297.7 881.1 1298.9 882.7 1300.2 884.2 1301.4 885.8 1302.6 887.4 1303.7 889.1 1304.9 890.7 1306.1 892.3 1307.2 894.0 1308.4 895.6 1309.5 897.3 1310.6 898.9 1311.7 900.6 1312.8 902.2 1313.9 903.9 1315.0 905.6 1316.1 907.3 1317.2 909.0 1318.3 910.6 1319.4 912.3 1320.4 914.0 1321.5 915.7 1322.5 917.4 1323.6 919.1 1324.6 920.8 1325.7 922.6 1326.7 924.3 1327.8 926.0 1328.8 927.7 1329.8 929.4 1330.9 931.1 1331.9 932.8 1332.9 934.5 1334.0 936.3 1335.0 938.0 1336.0 939.7 1337.1 941.4 1338.1 943.1 1339.1 944.8 1340.2 946.5 1341.2 948.3 1342.2 950.0 1343.3 951.7 1344.3 953.4 1345.4 955.1 1346.4 956.8 1347.5 958.5 1348.6 960.2 1349.6 961.9 1350.7 963.6 1351.8 965.3 1352.9 966.9 1354.0 968.6 1355.1 970.3 1356.2 971.9 1357.3 973.6 1358.4 975.3 1359.6 976.9 1360.7 978.6 1361.9 980.2 1363.0 981.8 1364.2 983.4 1365.4 985.1 1366.6 986.7 1367.8 988.2 1369.0 989.8 1370.3 991.4 1371.5 993.0 1372.8 994.5 1374.1 996.0 1375.5 997.5 1376.8 999.0 1378.2 1000.4 1379.6 1001.8 1381.1 1003.2 1382.5 1004.6 1384.0 1005.9 1385.6 1007.2 1387.2 1008.4 1388.8 1009.6 1390.4 1010.7 1392.1 1011.8 1393.9 1012.8 1395.6 1013.7 1397.4 1014.6 1399.2 1015.5 1401.1 1016.3 1402.9 1017.0 1404.8 1017.7 1406.7 1018.3 1408.6 1018.9 1410.6 1019.5 1412.5 1020.0 1414.4 1020.5 1416.4 1020.9 1418.3 1021.3 1420.3 1021.7 1422.3 1022.1 1424.2 1022.4 1426.2 1022.8 1428.2 1023.1 1430.2 1023.4 1432.2 1023.6 1434.2 1023.9 1436.1 1024.1 1438.1 1024.4 1440.1 1024.6 1442.1 1024.9 1444.1 1025.1 1446.1 1025.3 1448.1 1025.5 1450.1 1025.7 1452.1 1025.9 1454.0 1026.1 1456.0 1026.3 1458.0 1026.5 1460.0 1026.7 1462.0 1026.8 1464.0 1027.0 1466.0 1027.2 1468.0 1027.3 1470.0 1027.5 1472.0 1027.6 1474.0 1027.8 1476.0 1027.9 1478.0 1028.0 1480.0 1028.1 1482.0 1028.3 1484.0 1028.4 1486.0 1028.5 1488.0 1028.6 1490.0 1028.7 1492.0 1028.8 1494.0 1028.8 1496.0 1028.9 1498.0 1029.0 1500.0 1029.0 1644.0 1029.0"/>
</g>
<g class="tk" text-anchor="end">
<text transform="translate(146.0 1044.4) scale(1 1.08)">0.0</text>
<text transform="translate(146.0 933.9) scale(1 1.08)">0.5</text>
<text transform="translate(146.0 823.4) scale(1 1.08)">1.0</text>
<text transform="translate(146.0 712.9) scale(1 1.08)">1.5</text>
<text transform="translate(146.0 602.4) scale(1 1.08)">2.0</text>
<text transform="translate(146.0 491.9) scale(1 1.08)">2.5</text>
<text transform="translate(146.0 381.4) scale(1 1.08)">3.0</text>
<text transform="translate(146.0 270.9) scale(1 1.08)">3.5</text>
<text transform="translate(146.0 160.4) scale(1 1.08)">4.0</text>
<text transform="translate(146.0 49.9) scale(1 1.08)">4.5</text>
</g>
<g class="tk" text-anchor="middle">
<text transform="translate(180.4 1101.0) scale(1 1.08)">0.1</text>
<text transform="translate(546.2 1101.0) scale(1 1.08)">1</text>
<text transform="translate(912.1 1101.0) scale(1 1.08)">10</text>
<text transform="translate(1278.2 1101.0) scale(1 1.08)">100</text>
<text transform="translate(1644.3 1101.0) scale(1 1.08)">1000</text>
</g>
<text class="ti" text-anchor="middle" textLength="406" lengthAdjust="spacingAndGlyphs" transform="translate(933.0 1171.0) scale(1 1.0)">Particle size (μm)</text>
<text class="ti" text-anchor="middle" textLength="286" lengthAdjust="spacingAndGlyphs" transform="translate(56.0 532.0) rotate(-90) scale(1 1.0)">Volume (%)</text>
<g shape-rendering="crispEdges">
<rect x="216" y="91" width="124" height="4" fill="#000000"/>
<rect x="215" y="166" width="126" height="4" fill="#ff0000"/>
<rect x="215" y="242" width="126" height="3" fill="#0000ff"/>
<rect x="216" y="317" width="124" height="3" fill="#ff8000"/>
<rect x="216" y="392" width="124" height="4" fill="#008000"/>
</g>
<g class="lg">
<text transform="translate(350.5 112.0) scale(1 1.05)">OPC (d<tspan class="sub" dy="10.0">50</tspan><tspan dy="-10.0">: 18.82 μm)</tspan></text>
<text transform="translate(350.5 187.2) scale(1 1.05)">GP-0.5h (d<tspan class="sub" dy="10.0">50</tspan><tspan dy="-10.0">: 204 μm)</tspan></text>
<text transform="translate(350.5 262.5) scale(1 1.05)">GP-2h (d<tspan class="sub" dy="10.0">50</tspan><tspan dy="-10.0">: 47.9 μm)</tspan></text>
<text transform="translate(350.5 337.8) scale(1 1.05)">GP-4h (d<tspan class="sub" dy="10.0">50</tspan><tspan dy="-10.0">: 28.3 μm)</tspan></text>
<text transform="translate(350.5 413.0) scale(1 1.05)">FA (d<tspan class="sub" dy="10.0">50</tspan><tspan dy="-10.0">: 20.3 μm)</tspan></text>
</g>
</svg></body></html>
